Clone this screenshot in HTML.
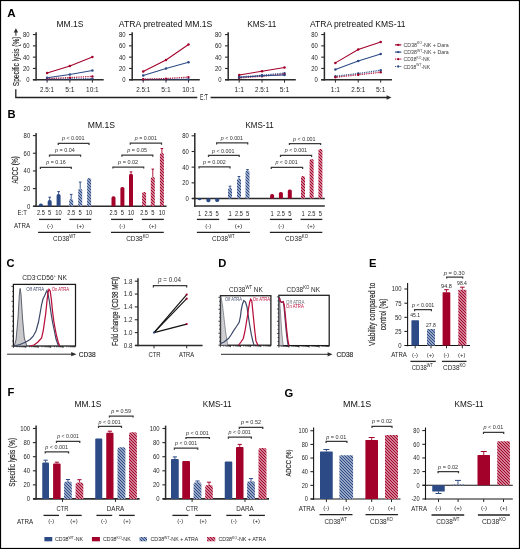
<!DOCTYPE html>
<html><head><meta charset="utf-8"><title>Figure</title>
<style>
html,body{margin:0;padding:0;background:#fff;}
body{width:520px;height:549px;overflow:hidden;}
svg{will-change:transform;display:block;font-family:"Liberation Sans", sans-serif;}
</style></head><body>
<svg width="520" height="549" viewBox="0 0 520 549" fill="#262626">
<defs>
<pattern id="hb" x="0" y="0" width="3" height="3" patternUnits="userSpaceOnUse"><rect width="3" height="3" fill="#fff"/><polygon points="0,0 1.02,0 3,1.98 3,3 1.98,3 0,1.02" fill="#2b4a86"/><polygon points="0,1.98 0,3 1.02,3" fill="#2b4a86"/><polygon points="1.98,0 3,0 3,1.02" fill="#2b4a86"/></pattern>
<pattern id="hr" x="0" y="0" width="3" height="3" patternUnits="userSpaceOnUse"><rect width="3" height="3" fill="#fff"/><polygon points="0,0 1.02,0 3,1.98 3,3 1.98,3 0,1.02" fill="#a3002a"/><polygon points="0,1.98 0,3 1.02,3" fill="#a3002a"/><polygon points="1.98,0 3,0 3,1.02" fill="#a3002a"/></pattern>
</defs>
<rect x="0" y="0" width="520" height="549" fill="#fff"/>

<text x="7.2" y="16.6" font-size="11.6" fill="#000" font-weight="bold">A</text>
<text x="56.5" y="27" font-size="9" fill="#111" textLength="27" lengthAdjust="spacingAndGlyphs">MM.1S</text>
<line x1="36.1" y1="32.2" x2="36.1" y2="80.5" stroke="#2b2b2b" stroke-width="1.5"/>
<line x1="32.9" y1="79.75" x2="36.1" y2="79.75" stroke="#2b2b2b" stroke-width="1.1"/>
<text x="26.2" y="82.2" font-size="7" textLength="3.3" lengthAdjust="spacingAndGlyphs">0</text>
<line x1="32.9" y1="68.45" x2="36.1" y2="68.45" stroke="#2b2b2b" stroke-width="1.1"/>
<text x="22.9" y="70.9" font-size="7" textLength="6.6" lengthAdjust="spacingAndGlyphs">20</text>
<line x1="32.9" y1="57.15" x2="36.1" y2="57.15" stroke="#2b2b2b" stroke-width="1.1"/>
<text x="22.9" y="59.6" font-size="7" textLength="6.6" lengthAdjust="spacingAndGlyphs">40</text>
<line x1="32.9" y1="45.85" x2="36.1" y2="45.85" stroke="#2b2b2b" stroke-width="1.1"/>
<text x="22.9" y="48.3" font-size="7" textLength="6.6" lengthAdjust="spacingAndGlyphs">60</text>
<line x1="32.9" y1="34.55" x2="36.1" y2="34.55" stroke="#2b2b2b" stroke-width="1.1"/>
<text x="22.9" y="37" font-size="7" textLength="6.6" lengthAdjust="spacingAndGlyphs">80</text>
<line x1="32.9" y1="79.75" x2="103.7" y2="79.75" stroke="#2b2b2b" stroke-width="1.6"/>
<line x1="47.1" y1="79.75" x2="47.1" y2="82.6" stroke="#2b2b2b" stroke-width="1"/>
<text x="40.09" y="91.6" font-size="7" textLength="14.01" lengthAdjust="spacingAndGlyphs">2.5:1</text>
<line x1="69.9" y1="79.75" x2="69.9" y2="82.6" stroke="#2b2b2b" stroke-width="1"/>
<text x="65.2" y="91.6" font-size="7" textLength="9.41" lengthAdjust="spacingAndGlyphs">5:1</text>
<line x1="92.4" y1="79.75" x2="92.4" y2="82.6" stroke="#2b2b2b" stroke-width="1"/>
<text x="86.08" y="91.6" font-size="7" textLength="12.64" lengthAdjust="spacingAndGlyphs">10:1</text>
<path d="M47.1 79.2 L69.9 79 L92.4 78.6" stroke="#2b4a86" stroke-width="1.3" fill="none" stroke-dasharray="0.9 0.9"/>
<circle cx="47.1" cy="79.2" r="1.2" fill="#2b4a86"/>
<circle cx="69.9" cy="79" r="1.2" fill="#2b4a86"/>
<circle cx="92.4" cy="78.6" r="1.2" fill="#2b4a86"/>
<path d="M47.1 78.6 L69.9 77.6 L92.4 76.4" stroke="#a3002a" stroke-width="1.3" fill="none" stroke-dasharray="0.9 0.9"/>
<circle cx="47.1" cy="78.6" r="1.2" fill="#a3002a"/>
<circle cx="69.9" cy="77.6" r="1.2" fill="#a3002a"/>
<circle cx="92.4" cy="76.4" r="1.2" fill="#a3002a"/>
<path d="M47.1 77.75 L69.9 74.4 L92.4 70.4" stroke="#2b4a86" stroke-width="1.05" fill="none"/>
<circle cx="47.1" cy="77.75" r="1.25" fill="#2b4a86"/>
<circle cx="69.9" cy="74.4" r="1.25" fill="#2b4a86"/>
<circle cx="92.4" cy="70.4" r="1.25" fill="#2b4a86"/>
<path d="M47.1 73.1 L69.9 66 L92.4 57.1" stroke="#a3002a" stroke-width="1.05" fill="none"/>
<circle cx="47.1" cy="73.1" r="1.25" fill="#a3002a"/>
<circle cx="69.9" cy="66" r="1.25" fill="#a3002a"/>
<circle cx="92.4" cy="57.1" r="1.25" fill="#a3002a"/>
<text x="118.8" y="27" font-size="9" fill="#111" textLength="93.6" lengthAdjust="spacingAndGlyphs">ATRA pretreated MM.1S</text>
<line x1="132.2" y1="32.2" x2="132.2" y2="80.5" stroke="#2b2b2b" stroke-width="1.5"/>
<line x1="129" y1="79.75" x2="132.2" y2="79.75" stroke="#2b2b2b" stroke-width="1.1"/>
<text x="122.3" y="82.2" font-size="7" textLength="3.3" lengthAdjust="spacingAndGlyphs">0</text>
<line x1="129" y1="68.45" x2="132.2" y2="68.45" stroke="#2b2b2b" stroke-width="1.1"/>
<text x="119" y="70.9" font-size="7" textLength="6.6" lengthAdjust="spacingAndGlyphs">20</text>
<line x1="129" y1="57.15" x2="132.2" y2="57.15" stroke="#2b2b2b" stroke-width="1.1"/>
<text x="119" y="59.6" font-size="7" textLength="6.6" lengthAdjust="spacingAndGlyphs">40</text>
<line x1="129" y1="45.85" x2="132.2" y2="45.85" stroke="#2b2b2b" stroke-width="1.1"/>
<text x="119" y="48.3" font-size="7" textLength="6.6" lengthAdjust="spacingAndGlyphs">60</text>
<line x1="129" y1="34.55" x2="132.2" y2="34.55" stroke="#2b2b2b" stroke-width="1.1"/>
<text x="119" y="37" font-size="7" textLength="6.6" lengthAdjust="spacingAndGlyphs">80</text>
<line x1="129" y1="79.75" x2="199.8" y2="79.75" stroke="#2b2b2b" stroke-width="1.6"/>
<line x1="143.2" y1="79.75" x2="143.2" y2="82.6" stroke="#2b2b2b" stroke-width="1"/>
<text x="136.19" y="91.6" font-size="7" textLength="14.01" lengthAdjust="spacingAndGlyphs">2.5:1</text>
<line x1="166" y1="79.75" x2="166" y2="82.6" stroke="#2b2b2b" stroke-width="1"/>
<text x="161.3" y="91.6" font-size="7" textLength="9.41" lengthAdjust="spacingAndGlyphs">5:1</text>
<line x1="188.5" y1="79.75" x2="188.5" y2="82.6" stroke="#2b2b2b" stroke-width="1"/>
<text x="182.18" y="91.6" font-size="7" textLength="12.64" lengthAdjust="spacingAndGlyphs">10:1</text>
<path d="M143.2 79.5 L166 79.4 L188.5 79.2" stroke="#2b4a86" stroke-width="1.3" fill="none" stroke-dasharray="0.9 0.9"/>
<circle cx="143.2" cy="79.5" r="1.2" fill="#2b4a86"/>
<circle cx="166" cy="79.4" r="1.2" fill="#2b4a86"/>
<circle cx="188.5" cy="79.2" r="1.2" fill="#2b4a86"/>
<path d="M143.2 79.2 L166 78.6 L188.5 77.1" stroke="#a3002a" stroke-width="1.3" fill="none" stroke-dasharray="0.9 0.9"/>
<circle cx="143.2" cy="79.2" r="1.2" fill="#a3002a"/>
<circle cx="166" cy="78.6" r="1.2" fill="#a3002a"/>
<circle cx="188.5" cy="77.1" r="1.2" fill="#a3002a"/>
<path d="M143.2 75.5 L166 68.5 L188.5 62.25" stroke="#2b4a86" stroke-width="1.05" fill="none"/>
<circle cx="143.2" cy="75.5" r="1.25" fill="#2b4a86"/>
<circle cx="166" cy="68.5" r="1.25" fill="#2b4a86"/>
<circle cx="188.5" cy="62.25" r="1.25" fill="#2b4a86"/>
<path d="M143.2 71.5 L166 60 L188.5 44.5" stroke="#a3002a" stroke-width="1.05" fill="none"/>
<circle cx="143.2" cy="71.5" r="1.25" fill="#a3002a"/>
<circle cx="166" cy="60" r="1.25" fill="#a3002a"/>
<circle cx="188.5" cy="44.5" r="1.25" fill="#a3002a"/>
<text x="247.2" y="27" font-size="9" fill="#111" textLength="29.2" lengthAdjust="spacingAndGlyphs">KMS-11</text>
<line x1="228.2" y1="32.2" x2="228.2" y2="80.5" stroke="#2b2b2b" stroke-width="1.5"/>
<line x1="225" y1="79.75" x2="228.2" y2="79.75" stroke="#2b2b2b" stroke-width="1.1"/>
<text x="218.3" y="82.2" font-size="7" textLength="3.3" lengthAdjust="spacingAndGlyphs">0</text>
<line x1="225" y1="68.45" x2="228.2" y2="68.45" stroke="#2b2b2b" stroke-width="1.1"/>
<text x="215" y="70.9" font-size="7" textLength="6.6" lengthAdjust="spacingAndGlyphs">20</text>
<line x1="225" y1="57.15" x2="228.2" y2="57.15" stroke="#2b2b2b" stroke-width="1.1"/>
<text x="215" y="59.6" font-size="7" textLength="6.6" lengthAdjust="spacingAndGlyphs">40</text>
<line x1="225" y1="45.85" x2="228.2" y2="45.85" stroke="#2b2b2b" stroke-width="1.1"/>
<text x="215" y="48.3" font-size="7" textLength="6.6" lengthAdjust="spacingAndGlyphs">60</text>
<line x1="225" y1="34.55" x2="228.2" y2="34.55" stroke="#2b2b2b" stroke-width="1.1"/>
<text x="215" y="37" font-size="7" textLength="6.6" lengthAdjust="spacingAndGlyphs">80</text>
<line x1="225" y1="79.75" x2="295.8" y2="79.75" stroke="#2b2b2b" stroke-width="1.6"/>
<line x1="239.2" y1="79.75" x2="239.2" y2="82.6" stroke="#2b2b2b" stroke-width="1"/>
<text x="234.5" y="91.6" font-size="7" textLength="9.41" lengthAdjust="spacingAndGlyphs">1:1</text>
<line x1="262" y1="79.75" x2="262" y2="82.6" stroke="#2b2b2b" stroke-width="1"/>
<text x="254.99" y="91.6" font-size="7" textLength="14.01" lengthAdjust="spacingAndGlyphs">2.5:1</text>
<line x1="284.5" y1="79.75" x2="284.5" y2="82.6" stroke="#2b2b2b" stroke-width="1"/>
<text x="279.8" y="91.6" font-size="7" textLength="9.41" lengthAdjust="spacingAndGlyphs">5:1</text>
<path d="M239.2 77 L262 75.25 L284.5 73.1" stroke="#2b4a86" stroke-width="1.3" fill="none" stroke-dasharray="0.9 0.9"/>
<circle cx="239.2" cy="77" r="1.2" fill="#2b4a86"/>
<circle cx="262" cy="75.25" r="1.2" fill="#2b4a86"/>
<circle cx="284.5" cy="73.1" r="1.2" fill="#2b4a86"/>
<path d="M239.2 78 L262 76.25 L284.5 74.2" stroke="#a3002a" stroke-width="1.3" fill="none" stroke-dasharray="0.9 0.9"/>
<circle cx="239.2" cy="78" r="1.2" fill="#a3002a"/>
<circle cx="262" cy="76.25" r="1.2" fill="#a3002a"/>
<circle cx="284.5" cy="74.2" r="1.2" fill="#a3002a"/>
<path d="M239.2 77.25 L262 75.8 L284.5 75" stroke="#2b4a86" stroke-width="1.05" fill="none"/>
<circle cx="239.2" cy="77.25" r="1.25" fill="#2b4a86"/>
<circle cx="262" cy="75.8" r="1.25" fill="#2b4a86"/>
<circle cx="284.5" cy="75" r="1.25" fill="#2b4a86"/>
<path d="M239.2 75 L262 71.25 L284.5 67.5" stroke="#a3002a" stroke-width="1.05" fill="none"/>
<circle cx="239.2" cy="75" r="1.25" fill="#a3002a"/>
<circle cx="262" cy="71.25" r="1.25" fill="#a3002a"/>
<circle cx="284.5" cy="67.5" r="1.25" fill="#a3002a"/>
<text x="310" y="27" font-size="9" fill="#111" textLength="95.5" lengthAdjust="spacingAndGlyphs">ATRA pretreated KMS-11</text>
<line x1="324.4" y1="32.2" x2="324.4" y2="80.5" stroke="#2b2b2b" stroke-width="1.5"/>
<line x1="321.2" y1="79.75" x2="324.4" y2="79.75" stroke="#2b2b2b" stroke-width="1.1"/>
<text x="314.5" y="82.2" font-size="7" textLength="3.3" lengthAdjust="spacingAndGlyphs">0</text>
<line x1="321.2" y1="68.45" x2="324.4" y2="68.45" stroke="#2b2b2b" stroke-width="1.1"/>
<text x="311.2" y="70.9" font-size="7" textLength="6.6" lengthAdjust="spacingAndGlyphs">20</text>
<line x1="321.2" y1="57.15" x2="324.4" y2="57.15" stroke="#2b2b2b" stroke-width="1.1"/>
<text x="311.2" y="59.6" font-size="7" textLength="6.6" lengthAdjust="spacingAndGlyphs">40</text>
<line x1="321.2" y1="45.85" x2="324.4" y2="45.85" stroke="#2b2b2b" stroke-width="1.1"/>
<text x="311.2" y="48.3" font-size="7" textLength="6.6" lengthAdjust="spacingAndGlyphs">60</text>
<line x1="321.2" y1="34.55" x2="324.4" y2="34.55" stroke="#2b2b2b" stroke-width="1.1"/>
<text x="311.2" y="37" font-size="7" textLength="6.6" lengthAdjust="spacingAndGlyphs">80</text>
<line x1="321.2" y1="79.75" x2="392" y2="79.75" stroke="#2b2b2b" stroke-width="1.6"/>
<line x1="335.4" y1="79.75" x2="335.4" y2="82.6" stroke="#2b2b2b" stroke-width="1"/>
<text x="330.7" y="91.6" font-size="7" textLength="9.41" lengthAdjust="spacingAndGlyphs">1:1</text>
<line x1="358.2" y1="79.75" x2="358.2" y2="82.6" stroke="#2b2b2b" stroke-width="1"/>
<text x="351.19" y="91.6" font-size="7" textLength="14.01" lengthAdjust="spacingAndGlyphs">2.5:1</text>
<line x1="380.7" y1="79.75" x2="380.7" y2="82.6" stroke="#2b2b2b" stroke-width="1"/>
<text x="376" y="91.6" font-size="7" textLength="9.41" lengthAdjust="spacingAndGlyphs">5:1</text>
<path d="M335.4 76.25 L358.2 73.5 L380.7 70.25" stroke="#2b4a86" stroke-width="1.3" fill="none" stroke-dasharray="0.9 0.9"/>
<circle cx="335.4" cy="76.25" r="1.2" fill="#2b4a86"/>
<circle cx="358.2" cy="73.5" r="1.2" fill="#2b4a86"/>
<circle cx="380.7" cy="70.25" r="1.2" fill="#2b4a86"/>
<path d="M335.4 77.25 L358.2 74.75 L380.7 72.25" stroke="#a3002a" stroke-width="1.3" fill="none" stroke-dasharray="0.9 0.9"/>
<circle cx="335.4" cy="77.25" r="1.2" fill="#a3002a"/>
<circle cx="358.2" cy="74.75" r="1.2" fill="#a3002a"/>
<circle cx="380.7" cy="72.25" r="1.2" fill="#a3002a"/>
<path d="M335.4 69.5 L358.2 61 L380.7 54" stroke="#2b4a86" stroke-width="1.05" fill="none"/>
<circle cx="335.4" cy="69.5" r="1.25" fill="#2b4a86"/>
<circle cx="358.2" cy="61" r="1.25" fill="#2b4a86"/>
<circle cx="380.7" cy="54" r="1.25" fill="#2b4a86"/>
<path d="M335.4 62.9 L358.2 49.6 L380.7 41.9" stroke="#a3002a" stroke-width="1.05" fill="none"/>
<circle cx="335.4" cy="62.9" r="1.25" fill="#a3002a"/>
<circle cx="358.2" cy="49.6" r="1.25" fill="#a3002a"/>
<circle cx="380.7" cy="41.9" r="1.25" fill="#a3002a"/>
<path d="M15.8 89.2 L15.8 97.5 L197.3 97.5" stroke="#222" stroke-width="1.3" fill="none"/>
<line x1="210.6" y1="97.5" x2="388" y2="97.5" stroke="#222" stroke-width="1.3"/>
<path d="M386.6 95.2 L391.5 97.5 L386.6 99.8 Z" stroke="none" stroke-width="0" fill="#2b2b2b"/>
<text x="200" y="100.3" font-size="8.2" textLength="7.9" lengthAdjust="spacingAndGlyphs">E:T</text>
<text x="19.4" y="61.35" font-size="9" text-anchor="middle" textLength="49.7" lengthAdjust="spacingAndGlyphs" transform="rotate(-90 19.4 61.35)" stroke="#262626" stroke-width="0.18">Specific lysis (%)</text>
<line x1="15.9" y1="35.8" x2="15.9" y2="31.5" stroke="#2b2b2b" stroke-width="1"/>
<path d="M13.7 32.4 L15.9 28.2 L18.1 32.4 Z" stroke="none" stroke-width="0" fill="#2b2b2b"/>
<line x1="395" y1="44.9" x2="401.3" y2="44.9" stroke="#a3002a" stroke-width="1.2"/>
<circle cx="398.2" cy="44.9" r="1.15" fill="#a3002a"/>
<text x="403.5" y="46.9" font-size="5.8" fill="#3c3c3c" textLength="45.3" lengthAdjust="spacingAndGlyphs">CD38<tspan font-size="3.83" dy="-2.44">KO</tspan><tspan dy="2.44">-NK + Dara</tspan></text>
<line x1="395" y1="52.1" x2="401.3" y2="52.1" stroke="#2b4a86" stroke-width="1.2"/>
<circle cx="398.2" cy="52.1" r="1.15" fill="#2b4a86"/>
<text x="403.5" y="54.1" font-size="5.8" fill="#3c3c3c" textLength="45.3" lengthAdjust="spacingAndGlyphs">CD38<tspan font-size="3.83" dy="-2.44">WT</tspan><tspan dy="2.44">-NK + Dara</tspan></text>
<line x1="395" y1="59.2" x2="401.3" y2="59.2" stroke="#a3002a" stroke-width="1.2" stroke-dasharray="0.9 0.9"/>
<circle cx="398.2" cy="59.2" r="1.15" fill="#a3002a"/>
<text x="403.5" y="61.2" font-size="5.8" fill="#3c3c3c" textLength="26.5" lengthAdjust="spacingAndGlyphs">CD38<tspan font-size="3.83" dy="-2.44">KO</tspan><tspan dy="2.44">-NK</tspan></text>
<line x1="395" y1="66.5" x2="401.3" y2="66.5" stroke="#2b4a86" stroke-width="1.2" stroke-dasharray="0.9 0.9"/>
<circle cx="398.2" cy="66.5" r="1.15" fill="#2b4a86"/>
<text x="403.5" y="68.5" font-size="5.8" fill="#3c3c3c" textLength="26.5" lengthAdjust="spacingAndGlyphs">CD38<tspan font-size="3.83" dy="-2.44">WT</tspan><tspan dy="2.44">-NK</tspan></text>
<text x="7.4" y="117.6" font-size="11.2" fill="#000" font-weight="bold">B</text>
<text x="87.75" y="127.8" font-size="8.8" fill="#111" textLength="27.25" lengthAdjust="spacingAndGlyphs">MM.1S</text>
<line x1="36.1" y1="133.1" x2="36.1" y2="207.05" stroke="#2b2b2b" stroke-width="1.5"/>
<line x1="32.9" y1="206.3" x2="36.1" y2="206.3" stroke="#2b2b2b" stroke-width="1.1"/>
<text x="26.9" y="208.68" font-size="6.8" textLength="3.3" lengthAdjust="spacingAndGlyphs">0</text>
<line x1="32.9" y1="188.6" x2="36.1" y2="188.6" stroke="#2b2b2b" stroke-width="1.1"/>
<text x="23.6" y="190.98" font-size="6.8" textLength="6.6" lengthAdjust="spacingAndGlyphs">20</text>
<line x1="32.9" y1="170.95" x2="36.1" y2="170.95" stroke="#2b2b2b" stroke-width="1.1"/>
<text x="23.6" y="173.33" font-size="6.8" textLength="6.6" lengthAdjust="spacingAndGlyphs">40</text>
<line x1="32.9" y1="153.25" x2="36.1" y2="153.25" stroke="#2b2b2b" stroke-width="1.1"/>
<text x="23.6" y="155.63" font-size="6.8" textLength="6.6" lengthAdjust="spacingAndGlyphs">60</text>
<line x1="32.9" y1="135.6" x2="36.1" y2="135.6" stroke="#2b2b2b" stroke-width="1.1"/>
<text x="23.6" y="137.98" font-size="6.8" textLength="6.6" lengthAdjust="spacingAndGlyphs">80</text>
<line x1="33" y1="206.3" x2="166.5" y2="206.3" stroke="#2b2b2b" stroke-width="1.6"/>
<path d="M38.9 206.3 L38.9 205.3 Q38.9 203.6 40.6 203.6 L41.2 203.6 Q42.9 203.6 42.9 205.3 L42.9 206.3 Z" fill="#2b4a86"/>
<path d="M47.7 206.3 L47.7 201.7 Q47.7 200 49.4 200 L50 200 Q51.7 200 51.7 201.7 L51.7 206.3 Z" fill="#2b4a86"/>
<line x1="49.7" y1="200" x2="49.7" y2="197.2" stroke="#2b4a86" stroke-width="0.9"/>
<line x1="48.4" y1="197.2" x2="51" y2="197.2" stroke="#2b4a86" stroke-width="1"/>
<path d="M56.6 206.3 L56.6 195.7 Q56.6 194 58.3 194 L58.9 194 Q60.6 194 60.6 195.7 L60.6 206.3 Z" fill="#2b4a86"/>
<line x1="58.6" y1="194" x2="58.6" y2="191.6" stroke="#2b4a86" stroke-width="0.9"/>
<line x1="57.3" y1="191.6" x2="59.9" y2="191.6" stroke="#2b4a86" stroke-width="1"/>
<path d="M69.2 206.3 L69.2 200.7 Q69.2 199 70.9 199 L71.5 199 Q73.2 199 73.2 200.7 L73.2 206.3 Z" fill="url(#hb)"/>
<line x1="71.2" y1="199" x2="71.2" y2="194.4" stroke="#2b4a86" stroke-width="0.9"/>
<line x1="69.9" y1="194.4" x2="72.5" y2="194.4" stroke="#2b4a86" stroke-width="1"/>
<path d="M78.2 206.3 L78.2 190.4 Q78.2 188.7 79.9 188.7 L80.5 188.7 Q82.2 188.7 82.2 190.4 L82.2 206.3 Z" fill="url(#hb)"/>
<line x1="80.2" y1="188.7" x2="80.2" y2="182.1" stroke="#2b4a86" stroke-width="0.9"/>
<line x1="78.9" y1="182.1" x2="81.5" y2="182.1" stroke="#2b4a86" stroke-width="1"/>
<path d="M87.1 206.3 L87.1 179.8 Q87.1 178.1 88.8 178.1 L89.4 178.1 Q91.1 178.1 91.1 179.8 L91.1 206.3 Z" fill="url(#hb)"/>
<path d="M111.5 206.3 L111.5 197.9 Q111.5 196.2 113.2 196.2 L113.8 196.2 Q115.5 196.2 115.5 197.9 L115.5 206.3 Z" fill="#a3002a"/>
<path d="M120.4 206.3 L120.4 188.6 Q120.4 186.9 122.1 186.9 L122.7 186.9 Q124.4 186.9 124.4 188.6 L124.4 206.3 Z" fill="#a3002a"/>
<path d="M129 206.3 L129 175.4 Q129 173.7 130.7 173.7 L131.3 173.7 Q133 173.7 133 175.4 L133 206.3 Z" fill="#a3002a"/>
<line x1="131" y1="173.7" x2="131" y2="171.9" stroke="#a3002a" stroke-width="0.9"/>
<line x1="129.7" y1="171.9" x2="132.3" y2="171.9" stroke="#a3002a" stroke-width="1"/>
<path d="M142.1 206.3 L142.1 193.6 Q142.1 191.9 143.8 191.9 L144.4 191.9 Q146.1 191.9 146.1 193.6 L146.1 206.3 Z" fill="url(#hr)"/>
<path d="M150.8 206.3 L150.8 178.6 Q150.8 176.9 152.5 176.9 L153.1 176.9 Q154.8 176.9 154.8 178.6 L154.8 206.3 Z" fill="url(#hr)"/>
<line x1="152.8" y1="176.9" x2="152.8" y2="169.1" stroke="#a3002a" stroke-width="0.9"/>
<line x1="151.5" y1="169.1" x2="154.1" y2="169.1" stroke="#a3002a" stroke-width="1"/>
<path d="M159.9 206.3 L159.9 154.8 Q159.9 153.1 161.6 153.1 L162.2 153.1 Q163.9 153.1 163.9 154.8 L163.9 206.3 Z" fill="url(#hr)"/>
<line x1="161.9" y1="153.1" x2="161.9" y2="148.5" stroke="#a3002a" stroke-width="0.9"/>
<line x1="160.6" y1="148.5" x2="163.2" y2="148.5" stroke="#a3002a" stroke-width="1"/>
<path d="M40.4 168.9 L40.4 167.3 L71.3 167.3 L71.3 168.9" stroke="#3a3a3a" stroke-width="1.25" fill="none"/>
<text x="46.25" y="164.4" font-size="5.2" fill="#333" textLength="19.35" lengthAdjust="spacingAndGlyphs"><tspan font-style="italic">p</tspan> = 0.16</text>
<path d="M49.5 156.8 L49.5 155.2 L80.6 155.2 L80.6 156.8" stroke="#3a3a3a" stroke-width="1.25" fill="none"/>
<text x="55" y="152.3" font-size="5.2" fill="#333" textLength="19.75" lengthAdjust="spacingAndGlyphs"><tspan font-style="italic">p</tspan> = 0.04</text>
<path d="M58.3 144.9 L58.3 143.3 L89 143.3 L89 144.9" stroke="#3a3a3a" stroke-width="1.25" fill="none"/>
<text x="61.9" y="140.3" font-size="5.2" fill="#333" textLength="22.7" lengthAdjust="spacingAndGlyphs"><tspan font-style="italic">p</tspan> &lt; 0.001</text>
<path d="M112.9 168.6 L112.9 167 L143.7 167 L143.7 168.6" stroke="#3a3a3a" stroke-width="1.25" fill="none"/>
<text x="118.1" y="164.3" font-size="5.2" fill="#333" textLength="20" lengthAdjust="spacingAndGlyphs"><tspan font-style="italic">p</tspan> = 0.02</text>
<path d="M121.9 156.7 L121.9 155.1 L152.8 155.1 L152.8 156.7" stroke="#3a3a3a" stroke-width="1.25" fill="none"/>
<text x="127.25" y="152" font-size="5.2" fill="#333" textLength="19.85" lengthAdjust="spacingAndGlyphs"><tspan font-style="italic">p</tspan> = 0.05</text>
<path d="M130.3 144.8 L130.3 143.2 L161.5 143.2 L161.5 144.8" stroke="#3a3a3a" stroke-width="1.25" fill="none"/>
<text x="134.75" y="140.1" font-size="5.2" fill="#333" textLength="22.15" lengthAdjust="spacingAndGlyphs"><tspan font-style="italic">p</tspan> = 0.001</text>
<text x="17.6" y="169.9" font-size="8.7" text-anchor="middle" textLength="27.4" lengthAdjust="spacingAndGlyphs" transform="rotate(-90 17.6 169.9)" stroke="#262626" stroke-width="0.18">ADCC (%)</text>
<text x="17.5" y="215" font-size="6.8" textLength="9.4" lengthAdjust="spacingAndGlyphs">E:T</text>
<text x="36.98" y="215" font-size="6.8" textLength="7.84" lengthAdjust="spacingAndGlyphs">2.5</text>
<text x="48.08" y="215" font-size="6.8" textLength="3.23" lengthAdjust="spacingAndGlyphs">5</text>
<text x="55.37" y="215" font-size="6.8" textLength="6.47" lengthAdjust="spacingAndGlyphs">10</text>
<text x="67.28" y="215" font-size="6.8" textLength="7.84" lengthAdjust="spacingAndGlyphs">2.5</text>
<text x="78.58" y="215" font-size="6.8" textLength="3.23" lengthAdjust="spacingAndGlyphs">5</text>
<text x="85.87" y="215" font-size="6.8" textLength="6.47" lengthAdjust="spacingAndGlyphs">10</text>
<text x="109.58" y="215" font-size="6.8" textLength="7.84" lengthAdjust="spacingAndGlyphs">2.5</text>
<text x="120.78" y="215" font-size="6.8" textLength="3.23" lengthAdjust="spacingAndGlyphs">5</text>
<text x="127.77" y="215" font-size="6.8" textLength="6.47" lengthAdjust="spacingAndGlyphs">10</text>
<text x="140.18" y="215" font-size="6.8" textLength="7.84" lengthAdjust="spacingAndGlyphs">2.5</text>
<text x="151.18" y="215" font-size="6.8" textLength="3.23" lengthAdjust="spacingAndGlyphs">5</text>
<text x="158.67" y="215" font-size="6.8" textLength="6.47" lengthAdjust="spacingAndGlyphs">10</text>
<line x1="39" y1="219.4" x2="61" y2="219.4" stroke="#222" stroke-width="1.3"/>
<line x1="69.4" y1="219.4" x2="91.3" y2="219.4" stroke="#222" stroke-width="1.3"/>
<line x1="111" y1="219.4" x2="133" y2="219.4" stroke="#222" stroke-width="1.3"/>
<line x1="141.8" y1="219.4" x2="163.8" y2="219.4" stroke="#222" stroke-width="1.3"/>
<text x="14" y="228.2" font-size="6.8" textLength="16" lengthAdjust="spacingAndGlyphs">ATRA</text>
<text x="50" y="227.6" font-size="6.1" text-anchor="middle">(-)</text>
<text x="80.3" y="227.6" font-size="6.1" text-anchor="middle">(+)</text>
<text x="122.3" y="227.6" font-size="6.1" text-anchor="middle">(-)</text>
<text x="152.8" y="227.6" font-size="6.1" text-anchor="middle">(+)</text>
<line x1="38.1" y1="232.4" x2="90.6" y2="232.4" stroke="#222" stroke-width="1.3"/>
<line x1="111" y1="232.4" x2="163.8" y2="232.4" stroke="#222" stroke-width="1.3"/>
<text x="53.1" y="241" font-size="6.8" textLength="22.5" lengthAdjust="spacingAndGlyphs">CD38<tspan font-size="4.49" dy="-2.86">WT</tspan></text>
<text x="126.2" y="241" font-size="6.8" textLength="22.7" lengthAdjust="spacingAndGlyphs">CD38<tspan font-size="4.49" dy="-2.86">KO</tspan></text>
<text x="245.4" y="127.8" font-size="8.8" fill="#111" textLength="28.35" lengthAdjust="spacingAndGlyphs">KMS-11</text>
<line x1="194.8" y1="133" x2="194.8" y2="206.85" stroke="#2b2b2b" stroke-width="1.5"/>
<line x1="191.6" y1="198.5" x2="194.8" y2="198.5" stroke="#2b2b2b" stroke-width="1.1"/>
<text x="185.6" y="200.88" font-size="6.8" textLength="3.3" lengthAdjust="spacingAndGlyphs">0</text>
<line x1="191.6" y1="182.85" x2="194.8" y2="182.85" stroke="#2b2b2b" stroke-width="1.1"/>
<text x="182.3" y="185.23" font-size="6.8" textLength="6.6" lengthAdjust="spacingAndGlyphs">20</text>
<line x1="191.6" y1="167.15" x2="194.8" y2="167.15" stroke="#2b2b2b" stroke-width="1.1"/>
<text x="182.3" y="169.53" font-size="6.8" textLength="6.6" lengthAdjust="spacingAndGlyphs">40</text>
<line x1="191.6" y1="151.5" x2="194.8" y2="151.5" stroke="#2b2b2b" stroke-width="1.1"/>
<text x="182.3" y="153.88" font-size="6.8" textLength="6.6" lengthAdjust="spacingAndGlyphs">60</text>
<line x1="191.6" y1="135.8" x2="194.8" y2="135.8" stroke="#2b2b2b" stroke-width="1.1"/>
<text x="182.3" y="138.18" font-size="6.8" textLength="6.6" lengthAdjust="spacingAndGlyphs">80</text>
<line x1="192" y1="198.5" x2="324.8" y2="198.5" stroke="#2b2b2b" stroke-width="1.5"/>
<line x1="194.1" y1="206.1" x2="324.8" y2="206.1" stroke="#2b2b2b" stroke-width="1.5"/>
<path d="M197.6 198.5 L201.6 198.5 L201.6 198.6 Q201.6 200.3 199.9 200.3 L199.3 200.3 Q197.6 200.3 197.6 198.6 Z" fill="#2b4a86"/>
<path d="M206.4 198.5 L210.4 198.5 L210.4 200.6 Q210.4 202.3 208.7 202.3 L208.1 202.3 Q206.4 202.3 206.4 200.6 Z" fill="#2b4a86"/>
<path d="M215.2 198.5 L219.2 198.5 L219.2 200.3 Q219.2 202 217.5 202 L216.9 202 Q215.2 202 215.2 200.3 Z" fill="#2b4a86"/>
<path d="M228 198.5 L228 189.8 Q228 188.1 229.7 188.1 L230.3 188.1 Q232 188.1 232 189.8 L232 198.5 Z" fill="url(#hb)"/>
<line x1="230" y1="188.1" x2="230" y2="186.2" stroke="#2b4a86" stroke-width="0.9"/>
<line x1="228.7" y1="186.2" x2="231.3" y2="186.2" stroke="#2b4a86" stroke-width="1"/>
<path d="M237 198.5 L237 180.3 Q237 178.6 238.7 178.6 L239.3 178.6 Q241 178.6 241 180.3 L241 198.5 Z" fill="url(#hb)"/>
<line x1="239" y1="178.6" x2="239" y2="176.5" stroke="#2b4a86" stroke-width="0.9"/>
<line x1="237.7" y1="176.5" x2="240.3" y2="176.5" stroke="#2b4a86" stroke-width="1"/>
<path d="M245.5 198.5 L245.5 172.3 Q245.5 170.6 247.2 170.6 L247.8 170.6 Q249.5 170.6 249.5 172.3 L249.5 198.5 Z" fill="url(#hb)"/>
<line x1="247.5" y1="170.6" x2="247.5" y2="169.6" stroke="#2b4a86" stroke-width="0.9"/>
<line x1="246.2" y1="169.6" x2="248.8" y2="169.6" stroke="#2b4a86" stroke-width="1"/>
<path d="M270.1 198.5 L270.1 195.7 Q270.1 194 271.8 194 L272.4 194 Q274.1 194 274.1 195.7 L274.1 198.5 Z" fill="#a3002a"/>
<path d="M278.9 198.5 L278.9 193.6 Q278.9 191.9 280.6 191.9 L281.2 191.9 Q282.9 191.9 282.9 193.6 L282.9 198.5 Z" fill="#a3002a"/>
<path d="M287.8 198.5 L287.8 191.1 Q287.8 189.4 289.5 189.4 L290.1 189.4 Q291.8 189.4 291.8 191.1 L291.8 198.5 Z" fill="#a3002a"/>
<path d="M301 198.5 L301 177.8 Q301 176.1 302.7 176.1 L303.3 176.1 Q305 176.1 305 177.8 L305 198.5 Z" fill="url(#hr)"/>
<path d="M309.6 198.5 L309.6 160.6 Q309.6 158.9 311.3 158.9 L311.9 158.9 Q313.6 158.9 313.6 160.6 L313.6 198.5 Z" fill="url(#hr)"/>
<path d="M318.4 198.5 L318.4 150.8 Q318.4 149.1 320.1 149.1 L320.7 149.1 Q322.4 149.1 322.4 150.8 L322.4 198.5 Z" fill="url(#hr)"/>
<path d="M199 168.5 L199 166.9 L230 166.9 L230 168.5" stroke="#3a3a3a" stroke-width="1.25" fill="none"/>
<text x="203" y="164.2" font-size="5.2" fill="#333" textLength="22.7" lengthAdjust="spacingAndGlyphs"><tspan font-style="italic">p</tspan> = 0.002</text>
<path d="M208.5 157 L208.5 155.4 L239.2 155.4 L239.2 157" stroke="#3a3a3a" stroke-width="1.25" fill="none"/>
<text x="212" y="152.5" font-size="5.2" fill="#333" textLength="22.6" lengthAdjust="spacingAndGlyphs"><tspan font-style="italic">p</tspan> &lt; 0.001</text>
<path d="M216.6 144.5 L216.6 142.9 L247.7 142.9 L247.7 144.5" stroke="#3a3a3a" stroke-width="1.25" fill="none"/>
<text x="220.8" y="140.1" font-size="5.2" fill="#333" textLength="22.2" lengthAdjust="spacingAndGlyphs"><tspan font-style="italic">p</tspan> &lt; 0.001</text>
<path d="M271.3 169 L271.3 167.4 L302.6 167.4 L302.6 169" stroke="#3a3a3a" stroke-width="1.25" fill="none"/>
<text x="275.4" y="164.3" font-size="5.2" fill="#333" textLength="22.35" lengthAdjust="spacingAndGlyphs"><tspan font-style="italic">p</tspan> &lt; 0.001</text>
<path d="M280.5 156.9 L280.5 155.3 L311.6 155.3 L311.6 156.9" stroke="#3a3a3a" stroke-width="1.25" fill="none"/>
<text x="284.75" y="152.2" font-size="5.2" fill="#333" textLength="22.35" lengthAdjust="spacingAndGlyphs"><tspan font-style="italic">p</tspan> &lt; 0.001</text>
<path d="M289.4 145.1 L289.4 143.5 L320.6 143.5 L320.6 145.1" stroke="#3a3a3a" stroke-width="1.25" fill="none"/>
<text x="293.1" y="140.5" font-size="5.2" fill="#333" textLength="22.5" lengthAdjust="spacingAndGlyphs"><tspan font-style="italic">p</tspan> &lt; 0.001</text>
<text x="197.98" y="215.6" font-size="6.8" textLength="3.23" lengthAdjust="spacingAndGlyphs">1</text>
<text x="204.48" y="215.6" font-size="6.8" textLength="7.84" lengthAdjust="spacingAndGlyphs">2.5</text>
<text x="215.58" y="215.6" font-size="6.8" textLength="3.23" lengthAdjust="spacingAndGlyphs">5</text>
<text x="228.38" y="215.6" font-size="6.8" textLength="3.23" lengthAdjust="spacingAndGlyphs">1</text>
<text x="235.08" y="215.6" font-size="6.8" textLength="7.84" lengthAdjust="spacingAndGlyphs">2.5</text>
<text x="245.88" y="215.6" font-size="6.8" textLength="3.23" lengthAdjust="spacingAndGlyphs">5</text>
<text x="270.48" y="215.6" font-size="6.8" textLength="3.23" lengthAdjust="spacingAndGlyphs">1</text>
<text x="276.98" y="215.6" font-size="6.8" textLength="7.84" lengthAdjust="spacingAndGlyphs">2.5</text>
<text x="288.18" y="215.6" font-size="6.8" textLength="3.23" lengthAdjust="spacingAndGlyphs">5</text>
<text x="301.38" y="215.6" font-size="6.8" textLength="3.23" lengthAdjust="spacingAndGlyphs">1</text>
<text x="307.68" y="215.6" font-size="6.8" textLength="7.84" lengthAdjust="spacingAndGlyphs">2.5</text>
<text x="318.78" y="215.6" font-size="6.8" textLength="3.23" lengthAdjust="spacingAndGlyphs">5</text>
<line x1="196.9" y1="219.4" x2="219.2" y2="219.4" stroke="#222" stroke-width="1.3"/>
<line x1="227.7" y1="219.4" x2="250" y2="219.4" stroke="#222" stroke-width="1.3"/>
<line x1="269.9" y1="219.4" x2="291.9" y2="219.4" stroke="#222" stroke-width="1.3"/>
<line x1="300.5" y1="219.4" x2="322.3" y2="219.4" stroke="#222" stroke-width="1.3"/>
<text x="208.2" y="227.7" font-size="6.1" text-anchor="middle">(-)</text>
<text x="238.5" y="227.7" font-size="6.1" text-anchor="middle">(+)</text>
<text x="281.2" y="227.7" font-size="6.1" text-anchor="middle">(-)</text>
<text x="311.1" y="227.7" font-size="6.1" text-anchor="middle">(+)</text>
<line x1="196.9" y1="232.3" x2="250" y2="232.3" stroke="#222" stroke-width="1.3"/>
<line x1="269.9" y1="232.3" x2="322.3" y2="232.3" stroke="#222" stroke-width="1.3"/>
<text x="212" y="241" font-size="6.8" textLength="22.6" lengthAdjust="spacingAndGlyphs">CD38<tspan font-size="4.49" dy="-2.86">WT</tspan></text>
<text x="285.1" y="241" font-size="6.8" textLength="22.9" lengthAdjust="spacingAndGlyphs">CD38<tspan font-size="4.49" dy="-2.86">KO</tspan></text>
<text x="6.6" y="267.3" font-size="11.2" fill="#000" font-weight="bold">C</text>
<text x="22.2" y="279.8" font-size="6.9" textLength="44.8" lengthAdjust="spacingAndGlyphs">CD3<tspan font-size="4" dy="-2.6">-</tspan><tspan dy="2.6">CD56</tspan><tspan font-size="4" dy="-2.6">+</tspan><tspan dy="2.6"> NK</tspan></text>
<rect x="13.4" y="284.4" width="62.1" height="61.6" fill="none" stroke="#1a1a1a" stroke-width="1.25"/>
<line x1="11.4" y1="346" x2="13.4" y2="346" stroke="#222" stroke-width="0.8"/>
<line x1="12.1" y1="341.03" x2="13.4" y2="341.03" stroke="#222" stroke-width="0.8"/>
<line x1="12.1" y1="336.06" x2="13.4" y2="336.06" stroke="#222" stroke-width="0.8"/>
<line x1="11.4" y1="331.1" x2="13.4" y2="331.1" stroke="#222" stroke-width="0.8"/>
<line x1="12.1" y1="326.13" x2="13.4" y2="326.13" stroke="#222" stroke-width="0.8"/>
<line x1="12.1" y1="321.16" x2="13.4" y2="321.16" stroke="#222" stroke-width="0.8"/>
<line x1="11.4" y1="316.19" x2="13.4" y2="316.19" stroke="#222" stroke-width="0.8"/>
<line x1="12.1" y1="311.23" x2="13.4" y2="311.23" stroke="#222" stroke-width="0.8"/>
<line x1="12.1" y1="306.26" x2="13.4" y2="306.26" stroke="#222" stroke-width="0.8"/>
<line x1="11.4" y1="301.29" x2="13.4" y2="301.29" stroke="#222" stroke-width="0.8"/>
<line x1="12.1" y1="296.32" x2="13.4" y2="296.32" stroke="#222" stroke-width="0.8"/>
<line x1="12.1" y1="291.35" x2="13.4" y2="291.35" stroke="#222" stroke-width="0.8"/>
<line x1="11.4" y1="286.39" x2="13.4" y2="286.39" stroke="#222" stroke-width="0.8"/>
<line x1="13.4" y1="346" x2="13.4" y2="348" stroke="#222" stroke-width="0.75"/>
<line x1="17.14" y1="346" x2="17.14" y2="347.3" stroke="#222" stroke-width="0.75"/>
<line x1="19.33" y1="346" x2="19.33" y2="347.3" stroke="#222" stroke-width="0.75"/>
<line x1="20.88" y1="346" x2="20.88" y2="347.3" stroke="#222" stroke-width="0.75"/>
<line x1="22.08" y1="346" x2="22.08" y2="347.3" stroke="#222" stroke-width="0.75"/>
<line x1="23.06" y1="346" x2="23.06" y2="347.3" stroke="#222" stroke-width="0.75"/>
<line x1="23.9" y1="346" x2="23.9" y2="347.3" stroke="#222" stroke-width="0.75"/>
<line x1="24.62" y1="346" x2="24.62" y2="347.3" stroke="#222" stroke-width="0.75"/>
<line x1="25.25" y1="346" x2="25.25" y2="347.3" stroke="#222" stroke-width="0.75"/>
<line x1="25.82" y1="346" x2="25.82" y2="348" stroke="#222" stroke-width="0.75"/>
<line x1="29.56" y1="346" x2="29.56" y2="347.3" stroke="#222" stroke-width="0.75"/>
<line x1="31.75" y1="346" x2="31.75" y2="347.3" stroke="#222" stroke-width="0.75"/>
<line x1="33.3" y1="346" x2="33.3" y2="347.3" stroke="#222" stroke-width="0.75"/>
<line x1="34.5" y1="346" x2="34.5" y2="347.3" stroke="#222" stroke-width="0.75"/>
<line x1="35.48" y1="346" x2="35.48" y2="347.3" stroke="#222" stroke-width="0.75"/>
<line x1="36.32" y1="346" x2="36.32" y2="347.3" stroke="#222" stroke-width="0.75"/>
<line x1="37.04" y1="346" x2="37.04" y2="347.3" stroke="#222" stroke-width="0.75"/>
<line x1="37.67" y1="346" x2="37.67" y2="347.3" stroke="#222" stroke-width="0.75"/>
<line x1="38.24" y1="346" x2="38.24" y2="348" stroke="#222" stroke-width="0.75"/>
<line x1="41.98" y1="346" x2="41.98" y2="347.3" stroke="#222" stroke-width="0.75"/>
<line x1="44.17" y1="346" x2="44.17" y2="347.3" stroke="#222" stroke-width="0.75"/>
<line x1="45.72" y1="346" x2="45.72" y2="347.3" stroke="#222" stroke-width="0.75"/>
<line x1="46.92" y1="346" x2="46.92" y2="347.3" stroke="#222" stroke-width="0.75"/>
<line x1="47.9" y1="346" x2="47.9" y2="347.3" stroke="#222" stroke-width="0.75"/>
<line x1="48.74" y1="346" x2="48.74" y2="347.3" stroke="#222" stroke-width="0.75"/>
<line x1="49.46" y1="346" x2="49.46" y2="347.3" stroke="#222" stroke-width="0.75"/>
<line x1="50.09" y1="346" x2="50.09" y2="347.3" stroke="#222" stroke-width="0.75"/>
<line x1="50.66" y1="346" x2="50.66" y2="348" stroke="#222" stroke-width="0.75"/>
<line x1="54.4" y1="346" x2="54.4" y2="347.3" stroke="#222" stroke-width="0.75"/>
<line x1="56.59" y1="346" x2="56.59" y2="347.3" stroke="#222" stroke-width="0.75"/>
<line x1="58.14" y1="346" x2="58.14" y2="347.3" stroke="#222" stroke-width="0.75"/>
<line x1="59.34" y1="346" x2="59.34" y2="347.3" stroke="#222" stroke-width="0.75"/>
<line x1="60.32" y1="346" x2="60.32" y2="347.3" stroke="#222" stroke-width="0.75"/>
<line x1="61.16" y1="346" x2="61.16" y2="347.3" stroke="#222" stroke-width="0.75"/>
<line x1="61.88" y1="346" x2="61.88" y2="347.3" stroke="#222" stroke-width="0.75"/>
<line x1="62.51" y1="346" x2="62.51" y2="347.3" stroke="#222" stroke-width="0.75"/>
<line x1="63.08" y1="346" x2="63.08" y2="348" stroke="#222" stroke-width="0.75"/>
<line x1="66.82" y1="346" x2="66.82" y2="347.3" stroke="#222" stroke-width="0.75"/>
<line x1="69.01" y1="346" x2="69.01" y2="347.3" stroke="#222" stroke-width="0.75"/>
<line x1="70.56" y1="346" x2="70.56" y2="347.3" stroke="#222" stroke-width="0.75"/>
<line x1="71.76" y1="346" x2="71.76" y2="347.3" stroke="#222" stroke-width="0.75"/>
<line x1="72.74" y1="346" x2="72.74" y2="347.3" stroke="#222" stroke-width="0.75"/>
<line x1="73.58" y1="346" x2="73.58" y2="347.3" stroke="#222" stroke-width="0.75"/>
<line x1="74.3" y1="346" x2="74.3" y2="347.3" stroke="#222" stroke-width="0.75"/>
<line x1="74.93" y1="346" x2="74.93" y2="347.3" stroke="#222" stroke-width="0.75"/>
<path d="M14.2 346 L16 340 L18 318 L19.3 295 L20.1 288.4 L21 294 L22.5 318 L24.3 338 L26.8 346 Z" stroke="#3c4050" stroke-width="0.8" fill="#c9c9cb"/>
<path d="M14.2 346 L20 344.5 L26 342 L30 339.5 L33 336.5 L36 331 L38.5 322 L40.5 311 L41.6 304.5 L43 299 L44.5 296 L46 292.5 L47 290.5 L48 294 L49.5 302 L51 313 L52.5 322 L54.4 331 L56 339 L58.5 346" stroke="#3d4868" stroke-width="1.2" fill="none"/>
<path d="M30 346 L34 345 L38 342 L41.6 337.9 L43.2 331 L44.5 322 L45.7 313.6 L47 301 L48 292.5 L49 289.4 L50.2 291 L51.3 299 L52.5 311 L53.7 320.4 L55 328 L56.6 336 L58.3 342.5 L59.8 346" stroke="#b80f3c" stroke-width="1.25" fill="none"/>
<text x="26.2" y="290.6" font-size="4.9" fill="#3d4868" textLength="18.1" lengthAdjust="spacingAndGlyphs">Off ATRA</text>
<text x="51.7" y="290.6" font-size="4.9" fill="#b80f3c" textLength="17.5" lengthAdjust="spacingAndGlyphs">On ATRA</text>
<line x1="7.1" y1="354.2" x2="72.5" y2="354.2" stroke="#2b2b2b" stroke-width="1"/>
<path d="M71.2 352.1 L76.5 354.2 L71.2 356.3 Z" stroke="none" stroke-width="0" fill="#2b2b2b"/>
<text x="78.8" y="356.6" font-size="7.6" textLength="16.8" lengthAdjust="spacingAndGlyphs" stroke="#262626" stroke-width="0.15">CD38</text>
<line x1="138" y1="278.2" x2="138" y2="346.2" stroke="#2b2b2b" stroke-width="1.5"/>
<line x1="134.8" y1="345.45" x2="138" y2="345.45" stroke="#2b2b2b" stroke-width="1.1"/>
<text x="123.8" y="347.87" font-size="6.9" textLength="8.6" lengthAdjust="spacingAndGlyphs">0.8</text>
<line x1="134.8" y1="332.6" x2="138" y2="332.6" stroke="#2b2b2b" stroke-width="1.1"/>
<text x="123.8" y="335.02" font-size="6.9" textLength="8.6" lengthAdjust="spacingAndGlyphs">1.0</text>
<line x1="134.8" y1="319.75" x2="138" y2="319.75" stroke="#2b2b2b" stroke-width="1.1"/>
<text x="123.8" y="322.17" font-size="6.9" textLength="8.6" lengthAdjust="spacingAndGlyphs">1.2</text>
<line x1="134.8" y1="306.9" x2="138" y2="306.9" stroke="#2b2b2b" stroke-width="1.1"/>
<text x="123.8" y="309.31" font-size="6.9" textLength="8.6" lengthAdjust="spacingAndGlyphs">1.4</text>
<line x1="134.8" y1="294.05" x2="138" y2="294.05" stroke="#2b2b2b" stroke-width="1.1"/>
<text x="123.8" y="296.47" font-size="6.9" textLength="8.6" lengthAdjust="spacingAndGlyphs">1.6</text>
<line x1="134.8" y1="281.2" x2="138" y2="281.2" stroke="#2b2b2b" stroke-width="1.1"/>
<text x="123.8" y="283.62" font-size="6.9" textLength="8.6" lengthAdjust="spacingAndGlyphs">1.8</text>
<line x1="135" y1="345.45" x2="202.6" y2="345.45" stroke="#2b2b2b" stroke-width="1.5"/>
<line x1="154" y1="345.45" x2="154" y2="348.3" stroke="#2b2b2b" stroke-width="1"/>
<line x1="186.7" y1="345.45" x2="186.7" y2="348.3" stroke="#2b2b2b" stroke-width="1"/>
<text x="148.4" y="357" font-size="6.8" textLength="12.3" lengthAdjust="spacingAndGlyphs">CTR</text>
<text x="179" y="357" font-size="6.8" textLength="15.1" lengthAdjust="spacingAndGlyphs">ATRA</text>
<line x1="154" y1="332.6" x2="186.7" y2="294.6" stroke="#111" stroke-width="1.15"/>
<circle cx="186.7" cy="294.6" r="1.1" fill="#a3002a"/>
<line x1="154" y1="332.6" x2="186.7" y2="298.7" stroke="#111" stroke-width="1.15"/>
<circle cx="186.7" cy="298.7" r="1.1" fill="#a3002a"/>
<line x1="154" y1="332.6" x2="186.7" y2="324.1" stroke="#111" stroke-width="1.15"/>
<circle cx="186.7" cy="324.1" r="1.1" fill="#a3002a"/>
<circle cx="154.0" cy="332.6" r="1.1" fill="#2b4a86"/>
<path d="M153.4 287.5 L153.4 285.6 L186.7 285.6 L186.7 287.5" stroke="#3a3a3a" stroke-width="1.25" fill="none"/>
<text x="158" y="282.4" font-size="6.4" fill="#333" textLength="23" lengthAdjust="spacingAndGlyphs"><tspan font-style="italic">p</tspan> = 0.04</text>
<text x="118.5" y="311.45" font-size="9.3" text-anchor="middle" textLength="68.9" lengthAdjust="spacingAndGlyphs" transform="rotate(-90 118.5 311.45)" stroke="#262626" stroke-width="0.18">Fold change (CD38 MFI)</text>
<text x="218.3" y="267.2" font-size="11.2" fill="#000" font-weight="bold">D</text>
<text x="229" y="291.9" font-size="7" textLength="33.75" lengthAdjust="spacingAndGlyphs">CD38<tspan font-size="4.62" dy="-2.94">WT</tspan><tspan dy="2.94"> NK</tspan></text>
<text x="286.6" y="292" font-size="7" textLength="33.5" lengthAdjust="spacingAndGlyphs">CD38<tspan font-size="4.62" dy="-2.94">KO</tspan><tspan dy="2.94"> NK</tspan></text>
<rect x="220.4" y="295.7" width="50.5" height="49.5" fill="none" stroke="#1a1a1a" stroke-width="1.25"/>
<line x1="218.4" y1="345.2" x2="220.4" y2="345.2" stroke="#222" stroke-width="0.8"/>
<line x1="219.1" y1="341.21" x2="220.4" y2="341.21" stroke="#222" stroke-width="0.8"/>
<line x1="219.1" y1="337.22" x2="220.4" y2="337.22" stroke="#222" stroke-width="0.8"/>
<line x1="218.4" y1="333.22" x2="220.4" y2="333.22" stroke="#222" stroke-width="0.8"/>
<line x1="219.1" y1="329.23" x2="220.4" y2="329.23" stroke="#222" stroke-width="0.8"/>
<line x1="219.1" y1="325.24" x2="220.4" y2="325.24" stroke="#222" stroke-width="0.8"/>
<line x1="218.4" y1="321.25" x2="220.4" y2="321.25" stroke="#222" stroke-width="0.8"/>
<line x1="219.1" y1="317.26" x2="220.4" y2="317.26" stroke="#222" stroke-width="0.8"/>
<line x1="219.1" y1="313.26" x2="220.4" y2="313.26" stroke="#222" stroke-width="0.8"/>
<line x1="218.4" y1="309.27" x2="220.4" y2="309.27" stroke="#222" stroke-width="0.8"/>
<line x1="219.1" y1="305.28" x2="220.4" y2="305.28" stroke="#222" stroke-width="0.8"/>
<line x1="219.1" y1="301.29" x2="220.4" y2="301.29" stroke="#222" stroke-width="0.8"/>
<line x1="218.4" y1="297.3" x2="220.4" y2="297.3" stroke="#222" stroke-width="0.8"/>
<line x1="220.4" y1="345.2" x2="220.4" y2="347.2" stroke="#222" stroke-width="0.75"/>
<line x1="223.44" y1="345.2" x2="223.44" y2="346.5" stroke="#222" stroke-width="0.75"/>
<line x1="225.22" y1="345.2" x2="225.22" y2="346.5" stroke="#222" stroke-width="0.75"/>
<line x1="226.48" y1="345.2" x2="226.48" y2="346.5" stroke="#222" stroke-width="0.75"/>
<line x1="227.46" y1="345.2" x2="227.46" y2="346.5" stroke="#222" stroke-width="0.75"/>
<line x1="228.26" y1="345.2" x2="228.26" y2="346.5" stroke="#222" stroke-width="0.75"/>
<line x1="228.94" y1="345.2" x2="228.94" y2="346.5" stroke="#222" stroke-width="0.75"/>
<line x1="229.52" y1="345.2" x2="229.52" y2="346.5" stroke="#222" stroke-width="0.75"/>
<line x1="230.04" y1="345.2" x2="230.04" y2="346.5" stroke="#222" stroke-width="0.75"/>
<line x1="230.5" y1="345.2" x2="230.5" y2="347.2" stroke="#222" stroke-width="0.75"/>
<line x1="233.54" y1="345.2" x2="233.54" y2="346.5" stroke="#222" stroke-width="0.75"/>
<line x1="235.32" y1="345.2" x2="235.32" y2="346.5" stroke="#222" stroke-width="0.75"/>
<line x1="236.58" y1="345.2" x2="236.58" y2="346.5" stroke="#222" stroke-width="0.75"/>
<line x1="237.56" y1="345.2" x2="237.56" y2="346.5" stroke="#222" stroke-width="0.75"/>
<line x1="238.36" y1="345.2" x2="238.36" y2="346.5" stroke="#222" stroke-width="0.75"/>
<line x1="239.04" y1="345.2" x2="239.04" y2="346.5" stroke="#222" stroke-width="0.75"/>
<line x1="239.62" y1="345.2" x2="239.62" y2="346.5" stroke="#222" stroke-width="0.75"/>
<line x1="240.14" y1="345.2" x2="240.14" y2="346.5" stroke="#222" stroke-width="0.75"/>
<line x1="240.6" y1="345.2" x2="240.6" y2="347.2" stroke="#222" stroke-width="0.75"/>
<line x1="243.64" y1="345.2" x2="243.64" y2="346.5" stroke="#222" stroke-width="0.75"/>
<line x1="245.42" y1="345.2" x2="245.42" y2="346.5" stroke="#222" stroke-width="0.75"/>
<line x1="246.68" y1="345.2" x2="246.68" y2="346.5" stroke="#222" stroke-width="0.75"/>
<line x1="247.66" y1="345.2" x2="247.66" y2="346.5" stroke="#222" stroke-width="0.75"/>
<line x1="248.46" y1="345.2" x2="248.46" y2="346.5" stroke="#222" stroke-width="0.75"/>
<line x1="249.14" y1="345.2" x2="249.14" y2="346.5" stroke="#222" stroke-width="0.75"/>
<line x1="249.72" y1="345.2" x2="249.72" y2="346.5" stroke="#222" stroke-width="0.75"/>
<line x1="250.24" y1="345.2" x2="250.24" y2="346.5" stroke="#222" stroke-width="0.75"/>
<line x1="250.7" y1="345.2" x2="250.7" y2="347.2" stroke="#222" stroke-width="0.75"/>
<line x1="253.74" y1="345.2" x2="253.74" y2="346.5" stroke="#222" stroke-width="0.75"/>
<line x1="255.52" y1="345.2" x2="255.52" y2="346.5" stroke="#222" stroke-width="0.75"/>
<line x1="256.78" y1="345.2" x2="256.78" y2="346.5" stroke="#222" stroke-width="0.75"/>
<line x1="257.76" y1="345.2" x2="257.76" y2="346.5" stroke="#222" stroke-width="0.75"/>
<line x1="258.56" y1="345.2" x2="258.56" y2="346.5" stroke="#222" stroke-width="0.75"/>
<line x1="259.24" y1="345.2" x2="259.24" y2="346.5" stroke="#222" stroke-width="0.75"/>
<line x1="259.82" y1="345.2" x2="259.82" y2="346.5" stroke="#222" stroke-width="0.75"/>
<line x1="260.34" y1="345.2" x2="260.34" y2="346.5" stroke="#222" stroke-width="0.75"/>
<line x1="260.8" y1="345.2" x2="260.8" y2="347.2" stroke="#222" stroke-width="0.75"/>
<line x1="263.84" y1="345.2" x2="263.84" y2="346.5" stroke="#222" stroke-width="0.75"/>
<line x1="265.62" y1="345.2" x2="265.62" y2="346.5" stroke="#222" stroke-width="0.75"/>
<line x1="266.88" y1="345.2" x2="266.88" y2="346.5" stroke="#222" stroke-width="0.75"/>
<line x1="267.86" y1="345.2" x2="267.86" y2="346.5" stroke="#222" stroke-width="0.75"/>
<line x1="268.66" y1="345.2" x2="268.66" y2="346.5" stroke="#222" stroke-width="0.75"/>
<line x1="269.34" y1="345.2" x2="269.34" y2="346.5" stroke="#222" stroke-width="0.75"/>
<line x1="269.92" y1="345.2" x2="269.92" y2="346.5" stroke="#222" stroke-width="0.75"/>
<line x1="270.44" y1="345.2" x2="270.44" y2="346.5" stroke="#222" stroke-width="0.75"/>
<rect x="278.9" y="295.3" width="50.3" height="50.3" fill="none" stroke="#1a1a1a" stroke-width="1.25"/>
<line x1="276.9" y1="345.6" x2="278.9" y2="345.6" stroke="#222" stroke-width="0.8"/>
<line x1="277.6" y1="341.54" x2="278.9" y2="341.54" stroke="#222" stroke-width="0.8"/>
<line x1="277.6" y1="337.49" x2="278.9" y2="337.49" stroke="#222" stroke-width="0.8"/>
<line x1="276.9" y1="333.43" x2="278.9" y2="333.43" stroke="#222" stroke-width="0.8"/>
<line x1="277.6" y1="329.37" x2="278.9" y2="329.37" stroke="#222" stroke-width="0.8"/>
<line x1="277.6" y1="325.32" x2="278.9" y2="325.32" stroke="#222" stroke-width="0.8"/>
<line x1="276.9" y1="321.26" x2="278.9" y2="321.26" stroke="#222" stroke-width="0.8"/>
<line x1="277.6" y1="317.2" x2="278.9" y2="317.2" stroke="#222" stroke-width="0.8"/>
<line x1="277.6" y1="313.15" x2="278.9" y2="313.15" stroke="#222" stroke-width="0.8"/>
<line x1="276.9" y1="309.09" x2="278.9" y2="309.09" stroke="#222" stroke-width="0.8"/>
<line x1="277.6" y1="305.04" x2="278.9" y2="305.04" stroke="#222" stroke-width="0.8"/>
<line x1="277.6" y1="300.98" x2="278.9" y2="300.98" stroke="#222" stroke-width="0.8"/>
<line x1="276.9" y1="296.92" x2="278.9" y2="296.92" stroke="#222" stroke-width="0.8"/>
<line x1="278.9" y1="345.6" x2="278.9" y2="347.6" stroke="#222" stroke-width="0.75"/>
<line x1="281.93" y1="345.6" x2="281.93" y2="346.9" stroke="#222" stroke-width="0.75"/>
<line x1="283.7" y1="345.6" x2="283.7" y2="346.9" stroke="#222" stroke-width="0.75"/>
<line x1="284.96" y1="345.6" x2="284.96" y2="346.9" stroke="#222" stroke-width="0.75"/>
<line x1="285.93" y1="345.6" x2="285.93" y2="346.9" stroke="#222" stroke-width="0.75"/>
<line x1="286.73" y1="345.6" x2="286.73" y2="346.9" stroke="#222" stroke-width="0.75"/>
<line x1="287.4" y1="345.6" x2="287.4" y2="346.9" stroke="#222" stroke-width="0.75"/>
<line x1="287.99" y1="345.6" x2="287.99" y2="346.9" stroke="#222" stroke-width="0.75"/>
<line x1="288.5" y1="345.6" x2="288.5" y2="346.9" stroke="#222" stroke-width="0.75"/>
<line x1="288.96" y1="345.6" x2="288.96" y2="347.6" stroke="#222" stroke-width="0.75"/>
<line x1="291.99" y1="345.6" x2="291.99" y2="346.9" stroke="#222" stroke-width="0.75"/>
<line x1="293.76" y1="345.6" x2="293.76" y2="346.9" stroke="#222" stroke-width="0.75"/>
<line x1="295.02" y1="345.6" x2="295.02" y2="346.9" stroke="#222" stroke-width="0.75"/>
<line x1="295.99" y1="345.6" x2="295.99" y2="346.9" stroke="#222" stroke-width="0.75"/>
<line x1="296.79" y1="345.6" x2="296.79" y2="346.9" stroke="#222" stroke-width="0.75"/>
<line x1="297.46" y1="345.6" x2="297.46" y2="346.9" stroke="#222" stroke-width="0.75"/>
<line x1="298.05" y1="345.6" x2="298.05" y2="346.9" stroke="#222" stroke-width="0.75"/>
<line x1="298.56" y1="345.6" x2="298.56" y2="346.9" stroke="#222" stroke-width="0.75"/>
<line x1="299.02" y1="345.6" x2="299.02" y2="347.6" stroke="#222" stroke-width="0.75"/>
<line x1="302.05" y1="345.6" x2="302.05" y2="346.9" stroke="#222" stroke-width="0.75"/>
<line x1="303.82" y1="345.6" x2="303.82" y2="346.9" stroke="#222" stroke-width="0.75"/>
<line x1="305.08" y1="345.6" x2="305.08" y2="346.9" stroke="#222" stroke-width="0.75"/>
<line x1="306.05" y1="345.6" x2="306.05" y2="346.9" stroke="#222" stroke-width="0.75"/>
<line x1="306.85" y1="345.6" x2="306.85" y2="346.9" stroke="#222" stroke-width="0.75"/>
<line x1="307.52" y1="345.6" x2="307.52" y2="346.9" stroke="#222" stroke-width="0.75"/>
<line x1="308.11" y1="345.6" x2="308.11" y2="346.9" stroke="#222" stroke-width="0.75"/>
<line x1="308.62" y1="345.6" x2="308.62" y2="346.9" stroke="#222" stroke-width="0.75"/>
<line x1="309.08" y1="345.6" x2="309.08" y2="347.6" stroke="#222" stroke-width="0.75"/>
<line x1="312.11" y1="345.6" x2="312.11" y2="346.9" stroke="#222" stroke-width="0.75"/>
<line x1="313.88" y1="345.6" x2="313.88" y2="346.9" stroke="#222" stroke-width="0.75"/>
<line x1="315.14" y1="345.6" x2="315.14" y2="346.9" stroke="#222" stroke-width="0.75"/>
<line x1="316.11" y1="345.6" x2="316.11" y2="346.9" stroke="#222" stroke-width="0.75"/>
<line x1="316.91" y1="345.6" x2="316.91" y2="346.9" stroke="#222" stroke-width="0.75"/>
<line x1="317.58" y1="345.6" x2="317.58" y2="346.9" stroke="#222" stroke-width="0.75"/>
<line x1="318.17" y1="345.6" x2="318.17" y2="346.9" stroke="#222" stroke-width="0.75"/>
<line x1="318.68" y1="345.6" x2="318.68" y2="346.9" stroke="#222" stroke-width="0.75"/>
<line x1="319.14" y1="345.6" x2="319.14" y2="347.6" stroke="#222" stroke-width="0.75"/>
<line x1="322.17" y1="345.6" x2="322.17" y2="346.9" stroke="#222" stroke-width="0.75"/>
<line x1="323.94" y1="345.6" x2="323.94" y2="346.9" stroke="#222" stroke-width="0.75"/>
<line x1="325.2" y1="345.6" x2="325.2" y2="346.9" stroke="#222" stroke-width="0.75"/>
<line x1="326.17" y1="345.6" x2="326.17" y2="346.9" stroke="#222" stroke-width="0.75"/>
<line x1="326.97" y1="345.6" x2="326.97" y2="346.9" stroke="#222" stroke-width="0.75"/>
<line x1="327.64" y1="345.6" x2="327.64" y2="346.9" stroke="#222" stroke-width="0.75"/>
<line x1="328.23" y1="345.6" x2="328.23" y2="346.9" stroke="#222" stroke-width="0.75"/>
<line x1="328.74" y1="345.6" x2="328.74" y2="346.9" stroke="#222" stroke-width="0.75"/>
<path d="M220.9 296.5 L222.5 305 L224 318 L225.5 331 L226.8 340 L227.8 345.2 L220.9 345.2 Z" stroke="#555a66" stroke-width="0.6" fill="#cfcfd1"/>
<path d="M220.9 343.5 L224 342 L228.5 338.5 L231 335 L233.8 330.4 L236.5 326.5 L239.2 322.3 L240.5 316 L241.2 310.2 L242.5 304 L243.9 300.5 L245.5 302 L247 307 L248 314.2 L249.5 324 L251.3 334.4 L252.8 341 L254 345.2" stroke="#3d4868" stroke-width="1.2" fill="none"/>
<path d="M238.6 345.2 L241 342 L243.3 338.5 L245 331 L246.3 323 L247.3 317 L248.5 309 L249.7 302 L250.7 299.2 L251.8 301 L253.4 317 L254.8 331 L256 341.1 L258 345.2" stroke="#b80f3c" stroke-width="1.25" fill="none"/>
<text x="225.1" y="300.6" font-size="4.8" fill="#3d4868" textLength="16.8" lengthAdjust="spacingAndGlyphs">Off ATRA</text>
<text x="252.7" y="300.6" font-size="4.8" fill="#b80f3c" textLength="17.3" lengthAdjust="spacingAndGlyphs">On ATRA</text>
<path d="M279.4 297 L280.5 312 L281.6 330 L282.6 341 L283.3 345.6 L279.4 345.6 Z" stroke="#555a66" stroke-width="0.6" fill="#cfcfd1"/>
<path d="M279.4 297 L280.2 301 L281.5 302.3 L283.2 302 L284 306 L285 318 L286.3 332 L287.4 341 L288.3 345.6" stroke="#3d4868" stroke-width="1.2" fill="none"/>
<path d="M279.4 298 L280.5 301.8 L282 302.2 L283.3 301.6 L284.3 305 L285.6 318 L286.8 331 L287.9 340 L289 345.6" stroke="#b80f3c" stroke-width="1.25" fill="none"/>
<text x="286.1" y="303.6" font-size="4.8" fill="#6b6f7a" textLength="18.3" lengthAdjust="spacingAndGlyphs">Off ATRA</text>
<text x="286.1" y="308.4" font-size="4.8" fill="#b80f3c" textLength="17.7" lengthAdjust="spacingAndGlyphs">On ATRA</text>
<line x1="221" y1="354.3" x2="328.5" y2="354.3" stroke="#2b2b2b" stroke-width="1"/>
<path d="M327.6 352.2 L332.5 354.3 L327.6 356.4 Z" stroke="none" stroke-width="0" fill="#2b2b2b"/>
<text x="336.4" y="357.1" font-size="7.6" textLength="16.8" lengthAdjust="spacingAndGlyphs" stroke="#262626" stroke-width="0.15">CD38</text>
<text x="368.9" y="267.1" font-size="11.2" fill="#000" font-weight="bold">E</text>
<line x1="407.6" y1="283.1" x2="407.6" y2="346.25" stroke="#151515" stroke-width="1.1"/>
<line x1="404.4" y1="345.5" x2="407.6" y2="345.5" stroke="#151515" stroke-width="1"/>
<text x="398.3" y="347.81" font-size="6.6" textLength="3.3" lengthAdjust="spacingAndGlyphs">0</text>
<line x1="404.4" y1="331.4" x2="407.6" y2="331.4" stroke="#151515" stroke-width="1"/>
<text x="395" y="333.71" font-size="6.6" textLength="6.6" lengthAdjust="spacingAndGlyphs">25</text>
<line x1="404.4" y1="317.3" x2="407.6" y2="317.3" stroke="#151515" stroke-width="1"/>
<text x="395" y="319.61" font-size="6.6" textLength="6.6" lengthAdjust="spacingAndGlyphs">50</text>
<line x1="404.4" y1="303.2" x2="407.6" y2="303.2" stroke="#151515" stroke-width="1"/>
<text x="395" y="305.51" font-size="6.6" textLength="6.6" lengthAdjust="spacingAndGlyphs">75</text>
<line x1="404.4" y1="289" x2="407.6" y2="289" stroke="#151515" stroke-width="1"/>
<text x="391.7" y="291.31" font-size="6.6" textLength="9.9" lengthAdjust="spacingAndGlyphs">100</text>
<line x1="405" y1="345.5" x2="470" y2="345.5" stroke="#151515" stroke-width="1.1"/>
<line x1="415.2" y1="345.5" x2="415.2" y2="348.3" stroke="#2b2b2b" stroke-width="1"/>
<line x1="431" y1="345.5" x2="431" y2="348.3" stroke="#2b2b2b" stroke-width="1"/>
<line x1="446.5" y1="345.5" x2="446.5" y2="348.3" stroke="#2b2b2b" stroke-width="1"/>
<line x1="462.3" y1="345.5" x2="462.3" y2="348.3" stroke="#2b2b2b" stroke-width="1"/>
<path d="M411.4 345.5 L411.4 320.9 Q411.4 320.3 412 320.3 L418.4 320.3 Q419 320.3 419 320.9 L419 345.5 Z" fill="#2b4a86"/>
<path d="M427 345.5 L427 329.7 Q427 329.1 427.6 329.1 L434.4 329.1 Q435 329.1 435 329.7 L435 345.5 Z" fill="url(#hb)"/>
<path d="M442.6 345.5 L442.6 292.8 Q442.6 292.2 443.2 292.2 L449.7 292.2 Q450.3 292.2 450.3 292.8 L450.3 345.5 Z" fill="#a3002a"/>
<line x1="446.45" y1="292.2" x2="446.45" y2="289.7" stroke="#a3002a" stroke-width="0.9"/>
<line x1="444.15" y1="289.7" x2="448.75" y2="289.7" stroke="#a3002a" stroke-width="1"/>
<path d="M458.3 345.5 L458.3 290.3 Q458.3 289.7 458.9 289.7 L465.8 289.7 Q466.4 289.7 466.4 290.3 L466.4 345.5 Z" fill="url(#hr)"/>
<line x1="462.35" y1="289.7" x2="462.35" y2="287.2" stroke="#a3002a" stroke-width="0.9"/>
<line x1="460.05" y1="287.2" x2="464.65" y2="287.2" stroke="#a3002a" stroke-width="1"/>
<text x="410.2" y="317.3" font-size="5.4" textLength="9.9" lengthAdjust="spacingAndGlyphs">45.1</text>
<text x="426" y="326.6" font-size="5.4" textLength="9.7" lengthAdjust="spacingAndGlyphs">27.8</text>
<text x="441.1" y="287.6" font-size="5.4" textLength="10.7" lengthAdjust="spacingAndGlyphs">94.8</text>
<text x="457.1" y="285" font-size="5.4" textLength="9.8" lengthAdjust="spacingAndGlyphs">98.4</text>
<path d="M414.6 311.3 L414.6 309.7 L431.4 309.7 L431.4 311.3" stroke="#3a3a3a" stroke-width="1.25" fill="none"/>
<text x="412" y="307.3" font-size="5" fill="#333" textLength="22.3" lengthAdjust="spacingAndGlyphs"><tspan font-style="italic">p</tspan> &lt; 0.001</text>
<path d="M446.7 278.6 L446.7 277 L462.7 277 L462.7 278.6" stroke="#3a3a3a" stroke-width="1.25" fill="none"/>
<text x="443.8" y="274.6" font-size="5" fill="#333" textLength="21" lengthAdjust="spacingAndGlyphs"><tspan font-style="italic">p</tspan> = 0.30</text>
<text x="391.2" y="357.2" font-size="6.6" textLength="15.7" lengthAdjust="spacingAndGlyphs">ATRA</text>
<text x="415" y="356.6" font-size="5.8" text-anchor="middle">(-)</text>
<text x="430.4" y="356.6" font-size="5.8" text-anchor="middle">(+)</text>
<text x="446.3" y="356.6" font-size="5.8" text-anchor="middle">(-)</text>
<text x="461.7" y="356.6" font-size="5.8" text-anchor="middle">(+)</text>
<line x1="410.4" y1="361.4" x2="435.8" y2="361.4" stroke="#2b2b2b" stroke-width="1.3"/>
<line x1="441.9" y1="361.4" x2="466.5" y2="361.4" stroke="#2b2b2b" stroke-width="1.3"/>
<text x="411.7" y="370" font-size="6.8" textLength="21.2" lengthAdjust="spacingAndGlyphs">CD38<tspan font-size="4.49" dy="-2.86">WT</tspan></text>
<text x="443" y="370" font-size="6.8" textLength="22.6" lengthAdjust="spacingAndGlyphs">CD38<tspan font-size="4.49" dy="-2.86">KO</tspan></text>
<text x="375.5" y="314.4" font-size="8.9" text-anchor="middle" textLength="63.2" lengthAdjust="spacingAndGlyphs" transform="rotate(-90 375.5 314.4)" stroke="#262626" stroke-width="0.18">Viability compared to</text>
<text x="385.6" y="314.4" font-size="9" text-anchor="middle" textLength="31.8" lengthAdjust="spacingAndGlyphs" transform="rotate(-90 385.6 314.4)" stroke="#262626" stroke-width="0.18">control (%)</text>
<text x="7.5" y="396.3" font-size="11.2" fill="#000" font-weight="bold">F</text>
<text x="74.5" y="406.8" font-size="9" fill="#111" textLength="26.8" lengthAdjust="spacingAndGlyphs">MM.1S</text>
<line x1="36.1" y1="425.6" x2="36.1" y2="499.65" stroke="#2b2b2b" stroke-width="1.5"/>
<line x1="32.9" y1="498.9" x2="36.1" y2="498.9" stroke="#2b2b2b" stroke-width="1.1"/>
<text x="26.8" y="501.49" font-size="7.4" textLength="3.3" lengthAdjust="spacingAndGlyphs">0</text>
<line x1="32.9" y1="484.85" x2="36.1" y2="484.85" stroke="#2b2b2b" stroke-width="1.1"/>
<text x="23.5" y="487.44" font-size="7.4" textLength="6.6" lengthAdjust="spacingAndGlyphs">20</text>
<line x1="32.9" y1="470.8" x2="36.1" y2="470.8" stroke="#2b2b2b" stroke-width="1.1"/>
<text x="23.5" y="473.39" font-size="7.4" textLength="6.6" lengthAdjust="spacingAndGlyphs">40</text>
<line x1="32.9" y1="456.7" x2="36.1" y2="456.7" stroke="#2b2b2b" stroke-width="1.1"/>
<text x="23.5" y="459.29" font-size="7.4" textLength="6.6" lengthAdjust="spacingAndGlyphs">60</text>
<line x1="32.9" y1="442.6" x2="36.1" y2="442.6" stroke="#2b2b2b" stroke-width="1.1"/>
<text x="23.5" y="445.19" font-size="7.4" textLength="6.6" lengthAdjust="spacingAndGlyphs">80</text>
<line x1="32.9" y1="428.5" x2="36.1" y2="428.5" stroke="#2b2b2b" stroke-width="1.1"/>
<text x="20.2" y="431.09" font-size="7.4" textLength="9.9" lengthAdjust="spacingAndGlyphs">100</text>
<line x1="33.1" y1="498.9" x2="139.6" y2="498.9" stroke="#2b2b2b" stroke-width="1.6"/>
<path d="M42.25 498.9 L42.25 463.5 Q42.25 462.5 43.25 462.5 L48 462.5 Q49 462.5 49 463.5 L49 498.9 Z" fill="#2b4a86"/>
<line x1="45.62" y1="462.5" x2="45.62" y2="460.2" stroke="#2b4a86" stroke-width="0.9"/>
<line x1="43.52" y1="460.2" x2="47.73" y2="460.2" stroke="#2b4a86" stroke-width="1"/>
<path d="M53.1 498.9 L53.1 464.5 Q53.1 463.5 54.1 463.5 L59.6 463.5 Q60.6 463.5 60.6 464.5 L60.6 498.9 Z" fill="#a3002a"/>
<line x1="56.85" y1="463.5" x2="56.85" y2="462.2" stroke="#a3002a" stroke-width="0.9"/>
<line x1="54.75" y1="462.2" x2="58.95" y2="462.2" stroke="#a3002a" stroke-width="1"/>
<path d="M64.1 498.9 L64.1 483.6 Q64.1 481.6 66.1 481.6 L69.8 481.6 Q71.8 481.6 71.8 483.6 L71.8 498.9 Z" fill="url(#hb)"/>
<line x1="67.95" y1="481.6" x2="67.95" y2="479.5" stroke="#2b4a86" stroke-width="0.9"/>
<line x1="65.85" y1="479.5" x2="70.05" y2="479.5" stroke="#2b4a86" stroke-width="1"/>
<path d="M75.6 498.9 L75.6 484.5 Q75.6 482.5 77.6 482.5 L81.3 482.5 Q83.3 482.5 83.3 484.5 L83.3 498.9 Z" fill="url(#hr)"/>
<line x1="79.45" y1="482.5" x2="79.45" y2="479.7" stroke="#a3002a" stroke-width="0.9"/>
<line x1="77.35" y1="479.7" x2="81.55" y2="479.7" stroke="#a3002a" stroke-width="1"/>
<path d="M95.25 498.9 L95.25 439.5 Q95.25 438.5 96.25 438.5 L101.25 438.5 Q102.25 438.5 102.25 439.5 L102.25 498.9 Z" fill="#2b4a86"/>
<path d="M106.25 498.9 L106.25 433.8 Q106.25 432.8 107.25 432.8 L112.5 432.8 Q113.5 432.8 113.5 433.8 L113.5 498.9 Z" fill="#a3002a"/>
<line x1="109.88" y1="432.8" x2="109.88" y2="431.2" stroke="#a3002a" stroke-width="0.9"/>
<line x1="107.78" y1="431.2" x2="111.97" y2="431.2" stroke="#a3002a" stroke-width="1"/>
<path d="M117.5 498.9 L117.5 449.3 Q117.5 447.3 119.5 447.3 L123.4 447.3 Q125.4 447.3 125.4 449.3 L125.4 498.9 Z" fill="url(#hb)"/>
<path d="M129 498.9 L129 434.3 Q129 432.3 131 432.3 L134.9 432.3 Q136.9 432.3 136.9 434.3 L136.9 498.9 Z" fill="url(#hr)"/>
<path d="M45.25 453.5 L45.25 451.9 L68.6 451.9 L68.6 453.5" stroke="#3a3a3a" stroke-width="1.25" fill="none"/>
<text x="45.25" y="448.6" font-size="5.2" fill="#333" textLength="22.85" lengthAdjust="spacingAndGlyphs"><tspan font-style="italic">p</tspan> &lt; 0.001</text>
<path d="M56.5 442.9 L56.5 441.3 L79.75 441.3 L79.75 442.9" stroke="#3a3a3a" stroke-width="1.25" fill="none"/>
<text x="57.25" y="438.2" font-size="5.2" fill="#333" textLength="21.75" lengthAdjust="spacingAndGlyphs"><tspan font-style="italic">p</tspan> &lt; 0.001</text>
<path d="M98.5 427.9 L98.5 426.3 L121.5 426.3 L121.5 427.9" stroke="#3a3a3a" stroke-width="1.25" fill="none"/>
<text x="98.5" y="424" font-size="5.2" fill="#333" textLength="22.1" lengthAdjust="spacingAndGlyphs"><tspan font-style="italic">p</tspan> &lt; 0.001</text>
<path d="M109.4 417.6 L109.4 416 L133.1 416 L133.1 417.6" stroke="#3a3a3a" stroke-width="1.25" fill="none"/>
<text x="111.25" y="413.2" font-size="5.2" fill="#333" textLength="19.75" lengthAdjust="spacingAndGlyphs"><tspan font-style="italic">p</tspan> = 0.59</text>
<line x1="62.5" y1="498.9" x2="62.5" y2="501.9" stroke="#2b2b2b" stroke-width="1"/>
<line x1="115.5" y1="498.9" x2="115.5" y2="501.9" stroke="#2b2b2b" stroke-width="1"/>
<text x="56.5" y="510.8" font-size="6.8" textLength="12" lengthAdjust="spacingAndGlyphs">CTR</text>
<text x="106.75" y="510.8" font-size="6.8" textLength="17.5" lengthAdjust="spacingAndGlyphs">DARA</text>
<line x1="43.5" y1="515.4" x2="59" y2="515.4" stroke="#222" stroke-width="1.3"/>
<line x1="66.2" y1="515.4" x2="81.7" y2="515.4" stroke="#222" stroke-width="1.3"/>
<line x1="96.4" y1="515.4" x2="112.2" y2="515.4" stroke="#222" stroke-width="1.3"/>
<line x1="119.1" y1="515.4" x2="134.7" y2="515.4" stroke="#222" stroke-width="1.3"/>
<text x="51.25" y="523.1" font-size="5.9" text-anchor="middle">(-)</text>
<text x="74" y="523.1" font-size="5.9" text-anchor="middle">(+)</text>
<text x="104" y="523.1" font-size="5.9" text-anchor="middle">(-)</text>
<text x="127" y="523.1" font-size="5.9" text-anchor="middle">(+)</text>
<text x="17" y="523.9" font-size="6.8" textLength="16.25" lengthAdjust="spacingAndGlyphs">ATRA</text>
<text x="14.6" y="462.3" font-size="9.2" text-anchor="middle" textLength="48.8" lengthAdjust="spacingAndGlyphs" transform="rotate(-90 14.6 462.3)" stroke="#262626" stroke-width="0.18">Specific lysis (%)</text>
<text x="202.8" y="406.8" font-size="9" fill="#111" textLength="28.7" lengthAdjust="spacingAndGlyphs">KMS-11</text>
<line x1="165.6" y1="425.6" x2="165.6" y2="499.65" stroke="#2b2b2b" stroke-width="1.5"/>
<line x1="162.4" y1="498.9" x2="165.6" y2="498.9" stroke="#2b2b2b" stroke-width="1.1"/>
<text x="156.3" y="501.49" font-size="7.4" textLength="3.3" lengthAdjust="spacingAndGlyphs">0</text>
<line x1="162.4" y1="484.85" x2="165.6" y2="484.85" stroke="#2b2b2b" stroke-width="1.1"/>
<text x="153" y="487.44" font-size="7.4" textLength="6.6" lengthAdjust="spacingAndGlyphs">20</text>
<line x1="162.4" y1="470.8" x2="165.6" y2="470.8" stroke="#2b2b2b" stroke-width="1.1"/>
<text x="153" y="473.39" font-size="7.4" textLength="6.6" lengthAdjust="spacingAndGlyphs">40</text>
<line x1="162.4" y1="456.7" x2="165.6" y2="456.7" stroke="#2b2b2b" stroke-width="1.1"/>
<text x="153" y="459.29" font-size="7.4" textLength="6.6" lengthAdjust="spacingAndGlyphs">60</text>
<line x1="162.4" y1="442.6" x2="165.6" y2="442.6" stroke="#2b2b2b" stroke-width="1.1"/>
<text x="153" y="445.19" font-size="7.4" textLength="6.6" lengthAdjust="spacingAndGlyphs">80</text>
<line x1="162.4" y1="428.5" x2="165.6" y2="428.5" stroke="#2b2b2b" stroke-width="1.1"/>
<text x="149.7" y="431.09" font-size="7.4" textLength="9.9" lengthAdjust="spacingAndGlyphs">100</text>
<line x1="162.6" y1="498.9" x2="269" y2="498.9" stroke="#2b2b2b" stroke-width="1.6"/>
<path d="M171 498.9 L171 460 Q171 459 172 459 L177.75 459 Q178.75 459 178.75 460 L178.75 498.9 Z" fill="#2b4a86"/>
<line x1="174.88" y1="459" x2="174.88" y2="456.9" stroke="#2b4a86" stroke-width="0.9"/>
<line x1="172.78" y1="456.9" x2="176.97" y2="456.9" stroke="#2b4a86" stroke-width="1"/>
<path d="M182.25 498.9 L182.25 462 Q182.25 461 183.25 461 L189 461 Q190 461 190 462 L190 498.9 Z" fill="#a3002a"/>
<path d="M193.6 498.9 L193.6 484.2 Q193.6 482.2 195.6 482.2 L199.4 482.2 Q201.4 482.2 201.4 484.2 L201.4 498.9 Z" fill="url(#hb)"/>
<line x1="197.5" y1="482.2" x2="197.5" y2="481" stroke="#2b4a86" stroke-width="0.9"/>
<line x1="195.4" y1="481" x2="199.6" y2="481" stroke="#2b4a86" stroke-width="1"/>
<path d="M205.2 498.9 L205.2 487 Q205.2 485 207.2 485 L210.8 485 Q212.8 485 212.8 487 L212.8 498.9 Z" fill="url(#hr)"/>
<line x1="209" y1="485" x2="209" y2="482.2" stroke="#a3002a" stroke-width="0.9"/>
<line x1="206.9" y1="482.2" x2="211.1" y2="482.2" stroke="#a3002a" stroke-width="1"/>
<path d="M224.75 498.9 L224.75 462.5 Q224.75 461.5 225.75 461.5 L231.25 461.5 Q232.25 461.5 232.25 462.5 L232.25 498.9 Z" fill="#2b4a86"/>
<path d="M236 498.9 L236 447.9 Q236 446.9 237 446.9 L242.5 446.9 Q243.5 446.9 243.5 447.9 L243.5 498.9 Z" fill="#a3002a"/>
<line x1="239.75" y1="446.9" x2="239.75" y2="444.4" stroke="#a3002a" stroke-width="0.9"/>
<line x1="237.65" y1="444.4" x2="241.85" y2="444.4" stroke="#a3002a" stroke-width="1"/>
<path d="M247.1 498.9 L247.1 483.2 Q247.1 481.2 249.1 481.2 L252.9 481.2 Q254.9 481.2 254.9 483.2 L254.9 498.9 Z" fill="url(#hb)"/>
<line x1="251" y1="481.2" x2="251" y2="478.6" stroke="#2b4a86" stroke-width="0.9"/>
<line x1="248.9" y1="478.6" x2="253.1" y2="478.6" stroke="#2b4a86" stroke-width="1"/>
<path d="M258.5 498.9 L258.5 450.1 Q258.5 448.1 260.5 448.1 L264.5 448.1 Q266.5 448.1 266.5 450.1 L266.5 498.9 Z" fill="url(#hr)"/>
<path d="M174.4 449.7 L174.4 448.1 L197.75 448.1 L197.75 449.7" stroke="#3a3a3a" stroke-width="1.25" fill="none"/>
<text x="175" y="445.1" font-size="5.2" fill="#333" textLength="22.25" lengthAdjust="spacingAndGlyphs"><tspan font-style="italic">p</tspan> &lt; 0.001</text>
<path d="M186 439.1 L186 437.5 L209.4 437.5 L209.4 439.1" stroke="#3a3a3a" stroke-width="1.25" fill="none"/>
<text x="186" y="435" font-size="5.2" fill="#333" textLength="22.75" lengthAdjust="spacingAndGlyphs"><tspan font-style="italic">p</tspan> &lt; 0.001</text>
<path d="M228.4 438.7 L228.4 437.1 L251.4 437.1 L251.4 438.7" stroke="#3a3a3a" stroke-width="1.25" fill="none"/>
<text x="228.5" y="434.3" font-size="5.2" fill="#333" textLength="22.3" lengthAdjust="spacingAndGlyphs"><tspan font-style="italic">p</tspan> &lt; 0.001</text>
<path d="M239.3 428.9 L239.3 427.3 L262.75 427.3 L262.75 428.9" stroke="#3a3a3a" stroke-width="1.25" fill="none"/>
<text x="241" y="424.1" font-size="5.2" fill="#333" textLength="20" lengthAdjust="spacingAndGlyphs"><tspan font-style="italic">p</tspan> = 0.52</text>
<line x1="192.1" y1="498.9" x2="192.1" y2="501.9" stroke="#2b2b2b" stroke-width="1"/>
<line x1="245" y1="498.9" x2="245" y2="501.9" stroke="#2b2b2b" stroke-width="1"/>
<text x="186.1" y="510.8" font-size="6.8" textLength="12" lengthAdjust="spacingAndGlyphs">CTR</text>
<text x="236.25" y="510.8" font-size="6.8" textLength="17.5" lengthAdjust="spacingAndGlyphs">DARA</text>
<line x1="172.4" y1="515.4" x2="188.3" y2="515.4" stroke="#222" stroke-width="1.3"/>
<line x1="195.3" y1="515.4" x2="211.1" y2="515.4" stroke="#222" stroke-width="1.3"/>
<line x1="226.3" y1="515.4" x2="241.6" y2="515.4" stroke="#222" stroke-width="1.3"/>
<line x1="249" y1="515.4" x2="264.9" y2="515.4" stroke="#222" stroke-width="1.3"/>
<text x="180.2" y="523.1" font-size="5.9" text-anchor="middle">(-)</text>
<text x="203.1" y="523.1" font-size="5.9" text-anchor="middle">(+)</text>
<text x="233.75" y="523.1" font-size="5.9" text-anchor="middle">(-)</text>
<text x="256.4" y="523.1" font-size="5.9" text-anchor="middle">(+)</text>
<rect x="44.4" y="537" width="7.85" height="4.3" fill="#2b4a86"/>
<text x="55" y="541.3" font-size="6" textLength="28.1" lengthAdjust="spacingAndGlyphs">CD38<tspan font-size="3.96" dy="-2.52">WT</tspan><tspan dy="2.52">-NK</tspan></text>
<rect x="91.9" y="537" width="8" height="4.3" fill="#a3002a"/>
<text x="103" y="541.3" font-size="6" textLength="27.75" lengthAdjust="spacingAndGlyphs">CD38<tspan font-size="3.96" dy="-2.52">KO</tspan><tspan dy="2.52">-NK</tspan></text>
<rect x="139.5" y="537" width="7.5" height="4.3" fill="url(#hb)"/>
<text x="150.5" y="541.3" font-size="6" textLength="47.8" lengthAdjust="spacingAndGlyphs">CD38<tspan font-size="3.96" dy="-2.52">WT</tspan><tspan dy="2.52">-NK + ATRA</tspan></text>
<rect x="207.1" y="537" width="8.2" height="4.3" fill="url(#hr)"/>
<text x="218.4" y="541.3" font-size="6" textLength="47.6" lengthAdjust="spacingAndGlyphs">CD38<tspan font-size="3.96" dy="-2.52">KO</tspan><tspan dy="2.52">-NK + ATRA</tspan></text>
<text x="284.5" y="396.6" font-size="11.2" fill="#000" font-weight="bold">G</text>
<text x="290.9" y="463.05" font-size="8" text-anchor="middle" textLength="26.9" lengthAdjust="spacingAndGlyphs" transform="rotate(-90 290.9 463.05)" stroke="#262626" stroke-width="0.18">ADCC (%)</text>
<text x="343" y="407.2" font-size="9" fill="#111" textLength="28.25" lengthAdjust="spacingAndGlyphs">MM.1S</text>
<line x1="313.6" y1="427.5" x2="313.6" y2="499.75" stroke="#151515" stroke-width="1.1"/>
<line x1="310.4" y1="499" x2="313.6" y2="499" stroke="#151515" stroke-width="1"/>
<text x="304.76" y="501.31" font-size="6.6" textLength="3.13" lengthAdjust="spacingAndGlyphs">0</text>
<line x1="310.4" y1="485.35" x2="313.6" y2="485.35" stroke="#151515" stroke-width="1"/>
<text x="301.63" y="487.66" font-size="6.6" textLength="6.27" lengthAdjust="spacingAndGlyphs">20</text>
<line x1="310.4" y1="471.7" x2="313.6" y2="471.7" stroke="#151515" stroke-width="1"/>
<text x="301.63" y="474.01" font-size="6.6" textLength="6.27" lengthAdjust="spacingAndGlyphs">40</text>
<line x1="310.4" y1="458.05" x2="313.6" y2="458.05" stroke="#151515" stroke-width="1"/>
<text x="301.63" y="460.36" font-size="6.6" textLength="6.27" lengthAdjust="spacingAndGlyphs">60</text>
<line x1="310.4" y1="444.4" x2="313.6" y2="444.4" stroke="#151515" stroke-width="1"/>
<text x="301.63" y="446.71" font-size="6.6" textLength="6.27" lengthAdjust="spacingAndGlyphs">80</text>
<line x1="310.4" y1="430.75" x2="313.6" y2="430.75" stroke="#151515" stroke-width="1"/>
<text x="298.5" y="433.06" font-size="6.6" textLength="9.4" lengthAdjust="spacingAndGlyphs">100</text>
<line x1="310.6" y1="499" x2="400.5" y2="499" stroke="#151515" stroke-width="1.1"/>
<path d="M320 499 L320 452 Q320 451.4 320.6 451.4 L332.15 451.4 Q332.75 451.4 332.75 452 L332.75 499 Z" fill="#2b4a86"/>
<line x1="326.38" y1="451.4" x2="326.38" y2="449.5" stroke="#2b4a86" stroke-width="0.9"/>
<line x1="323.38" y1="449.5" x2="329.38" y2="449.5" stroke="#2b4a86" stroke-width="1"/>
<path d="M339.4 499 L339.4 455.9 Q339.4 455.3 340 455.3 L352.5 455.3 Q353.1 455.3 353.1 455.9 L353.1 499 Z" fill="url(#hb)"/>
<path d="M365.4 499 L365.4 440.6 Q365.4 440 366 440 L377.4 440 Q378 440 378 440.6 L378 499 Z" fill="#a3002a"/>
<line x1="371.7" y1="440" x2="371.7" y2="437.5" stroke="#a3002a" stroke-width="0.9"/>
<line x1="368.7" y1="437.5" x2="374.7" y2="437.5" stroke="#a3002a" stroke-width="1"/>
<path d="M385 499 L385 435.6 Q385 435 385.6 435 L397.4 435 Q398 435 398 435.6 L398 499 Z" fill="url(#hr)"/>
<line x1="326.4" y1="499" x2="326.4" y2="502" stroke="#2b2b2b" stroke-width="1"/>
<line x1="346.2" y1="499" x2="346.2" y2="502" stroke="#2b2b2b" stroke-width="1"/>
<line x1="371.7" y1="499" x2="371.7" y2="502" stroke="#2b2b2b" stroke-width="1"/>
<line x1="391.5" y1="499" x2="391.5" y2="502" stroke="#2b2b2b" stroke-width="1"/>
<path d="M326.1 442.9 L326.1 441.3 L346.9 441.3 L346.9 442.9" stroke="#3a3a3a" stroke-width="1.25" fill="none"/>
<text x="326.25" y="438.5" font-size="5.6" fill="#333" textLength="20" lengthAdjust="spacingAndGlyphs"><tspan font-style="italic">p</tspan> = 0.01</text>
<path d="M372 427.9 L372 426.3 L392 426.3 L392 427.9" stroke="#3a3a3a" stroke-width="1.25" fill="none"/>
<text x="372" y="423.3" font-size="5.6" fill="#333" textLength="20" lengthAdjust="spacingAndGlyphs"><tspan font-style="italic">p</tspan> = 0.02</text>
<text x="298.75" y="510.6" font-size="6.6" textLength="16.25" lengthAdjust="spacingAndGlyphs">ATRA</text>
<text x="326.25" y="510.1" font-size="6.1" text-anchor="middle">(-)</text>
<text x="346.25" y="510.1" font-size="6.1" text-anchor="middle">(+)</text>
<text x="371.25" y="510.1" font-size="6.1" text-anchor="middle">(-)</text>
<text x="391.75" y="510.1" font-size="6.1" text-anchor="middle">(+)</text>
<line x1="319.5" y1="514.6" x2="352.5" y2="514.6" stroke="#222" stroke-width="1.3"/>
<line x1="365.5" y1="514.6" x2="398" y2="514.6" stroke="#222" stroke-width="1.3"/>
<text x="324.5" y="523.8" font-size="6.8" textLength="22.5" lengthAdjust="spacingAndGlyphs">CD38<tspan font-size="4.49" dy="-2.86">WT</tspan></text>
<text x="370" y="523.8" font-size="6.8" textLength="23" lengthAdjust="spacingAndGlyphs">CD38<tspan font-size="4.49" dy="-2.86">KO</tspan></text>
<text x="454.6" y="406.8" font-size="9" fill="#111" textLength="28.9" lengthAdjust="spacingAndGlyphs">KMS-11</text>
<line x1="425.5" y1="427.5" x2="425.5" y2="499.75" stroke="#151515" stroke-width="1.1"/>
<line x1="422.3" y1="499" x2="425.5" y2="499" stroke="#151515" stroke-width="1"/>
<text x="411.43" y="501.31" font-size="6.6" textLength="8.17" lengthAdjust="spacingAndGlyphs">-20</text>
<line x1="422.3" y1="485.3" x2="425.5" y2="485.3" stroke="#151515" stroke-width="1"/>
<text x="416.47" y="487.61" font-size="6.6" textLength="3.13" lengthAdjust="spacingAndGlyphs">0</text>
<line x1="422.3" y1="471.6" x2="425.5" y2="471.6" stroke="#151515" stroke-width="1"/>
<text x="413.33" y="473.91" font-size="6.6" textLength="6.27" lengthAdjust="spacingAndGlyphs">20</text>
<line x1="422.3" y1="457.95" x2="425.5" y2="457.95" stroke="#151515" stroke-width="1"/>
<text x="413.33" y="460.26" font-size="6.6" textLength="6.27" lengthAdjust="spacingAndGlyphs">40</text>
<line x1="422.3" y1="444.3" x2="425.5" y2="444.3" stroke="#151515" stroke-width="1"/>
<text x="413.33" y="446.61" font-size="6.6" textLength="6.27" lengthAdjust="spacingAndGlyphs">60</text>
<line x1="422.3" y1="430.6" x2="425.5" y2="430.6" stroke="#151515" stroke-width="1"/>
<text x="413.33" y="432.91" font-size="6.6" textLength="6.27" lengthAdjust="spacingAndGlyphs">80</text>
<line x1="422.5" y1="485.3" x2="512.8" y2="485.3" stroke="#151515" stroke-width="1.1"/>
<line x1="424.8" y1="499" x2="512.8" y2="499" stroke="#151515" stroke-width="1.1"/>
<path d="M432.25 485.3 L444.75 485.3 L444.75 490.9 Q444.75 491.5 444.15 491.5 L432.85 491.5 Q432.25 491.5 432.25 490.9 Z" fill="#2b4a86"/>
<line x1="438.5" y1="491.5" x2="438.5" y2="493.5" stroke="#2b4a86" stroke-width="0.9"/>
<line x1="435.5" y1="493.5" x2="441.5" y2="493.5" stroke="#2b4a86" stroke-width="1"/>
<path d="M451.5 485.3 L451.5 485 Q451.5 484.4 452.1 484.4 L463.9 484.4 Q464.5 484.4 464.5 485 L464.5 485.3 Z" fill="url(#hb)"/>
<line x1="458" y1="484.4" x2="458" y2="480.4" stroke="#2b4a86" stroke-width="0.9"/>
<line x1="455" y1="480.4" x2="461" y2="480.4" stroke="#2b4a86" stroke-width="1"/>
<path d="M477.5 485.3 L477.5 455.7 Q477.5 455.1 478.1 455.1 L489.4 455.1 Q490 455.1 490 455.7 L490 485.3 Z" fill="#a3002a"/>
<line x1="483.75" y1="455.1" x2="483.75" y2="451.5" stroke="#a3002a" stroke-width="0.9"/>
<line x1="480.75" y1="451.5" x2="486.75" y2="451.5" stroke="#a3002a" stroke-width="1"/>
<path d="M497.2 485.3 L497.2 441.8 Q497.2 441.2 497.8 441.2 L509.3 441.2 Q509.9 441.2 509.9 441.8 L509.9 485.3 Z" fill="url(#hr)"/>
<line x1="438.5" y1="499" x2="438.5" y2="502" stroke="#2b2b2b" stroke-width="1"/>
<line x1="458.1" y1="499" x2="458.1" y2="502" stroke="#2b2b2b" stroke-width="1"/>
<line x1="483.7" y1="499" x2="483.7" y2="502" stroke="#2b2b2b" stroke-width="1"/>
<line x1="503.5" y1="499" x2="503.5" y2="502" stroke="#2b2b2b" stroke-width="1"/>
<path d="M438.1 473.2 L438.1 471.6 L458.5 471.6 L458.5 473.2" stroke="#3a3a3a" stroke-width="1.25" fill="none"/>
<text x="438.1" y="469" font-size="5.6" fill="#333" textLength="20" lengthAdjust="spacingAndGlyphs"><tspan font-style="italic">p</tspan> = 0.02</text>
<path d="M483.5 434 L483.5 432.4 L503.7 432.4 L503.7 434" stroke="#3a3a3a" stroke-width="1.25" fill="none"/>
<text x="483.5" y="429.3" font-size="5.6" fill="#333" textLength="19.7" lengthAdjust="spacingAndGlyphs"><tspan font-style="italic">p</tspan> &lt; 0.01</text>
<text x="411.3" y="510.6" font-size="6.6" textLength="15.7" lengthAdjust="spacingAndGlyphs">ATRA</text>
<text x="438.3" y="510.1" font-size="6.1" text-anchor="middle">(-)</text>
<text x="458" y="510.1" font-size="6.1" text-anchor="middle">(+)</text>
<text x="484" y="510.1" font-size="6.1" text-anchor="middle">(-)</text>
<text x="503.7" y="510.1" font-size="6.1" text-anchor="middle">(+)</text>
<line x1="431.5" y1="515" x2="464.2" y2="515" stroke="#222" stroke-width="1.3"/>
<line x1="477.9" y1="515" x2="509.9" y2="515" stroke="#222" stroke-width="1.3"/>
<text x="436.3" y="523.8" font-size="6.8" textLength="23.1" lengthAdjust="spacingAndGlyphs">CD38<tspan font-size="4.49" dy="-2.86">WT</tspan></text>
<text x="482" y="523.8" font-size="6.8" textLength="23.6" lengthAdjust="spacingAndGlyphs">CD38<tspan font-size="4.49" dy="-2.86">KO</tspan></text>
<rect x="0.5" y="0.5" width="519" height="548" fill="none" stroke="#000" stroke-width="1.2"/>
</svg>
</body></html>
